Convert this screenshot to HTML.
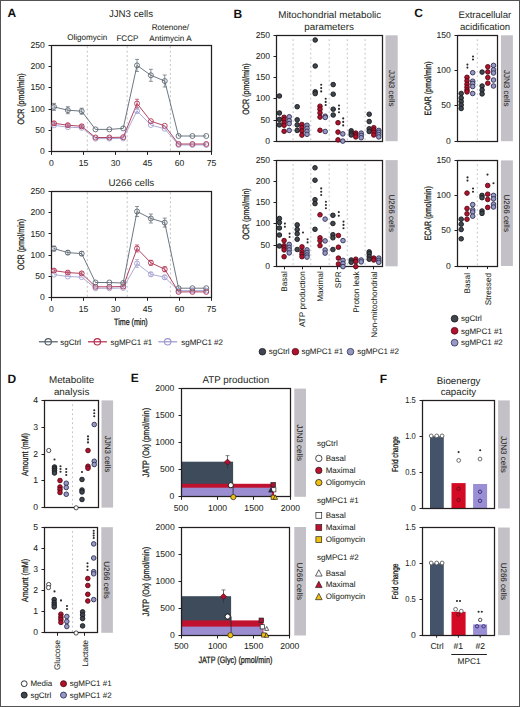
<!DOCTYPE html>
<html><head><meta charset="utf-8"><style>
html,body{margin:0;padding:0;background:#fff;}
body{width:520px;height:707px;overflow:hidden;}
svg{display:block;}
text{text-rendering:geometricPrecision;}
</style></head><body>
<svg width="520" height="707" viewBox="0 0 520 707" font-family='"Liberation Sans", sans-serif'>
<rect x="0.00" y="0.00" width="520.00" height="707.00" fill="#ffffff"/>
<text x="7.50" y="17.13" font-size="12" text-anchor="start" fill="#111" font-weight="bold">A</text>
<text x="233.60" y="17.73" font-size="12" text-anchor="start" fill="#111" font-weight="bold">B</text>
<text x="414.30" y="17.43" font-size="12" text-anchor="start" fill="#111" font-weight="bold">C</text>
<text x="7.50" y="382.93" font-size="12" text-anchor="start" fill="#111" font-weight="bold">D</text>
<text x="130.80" y="382.13" font-size="12" text-anchor="start" fill="#111" font-weight="bold">E</text>
<text x="379.70" y="383.33" font-size="12" text-anchor="start" fill="#111" font-weight="bold">F</text>
<text x="131.00" y="17.24" font-size="9.7" text-anchor="middle" fill="#231f20">JJN3 cells</text>
<text x="87.20" y="40.09" font-size="8.1" text-anchor="middle" fill="#231f20" stroke="#231f20" stroke-width="0.05">Oligomycin</text>
<text x="127.40" y="40.59" font-size="8.1" text-anchor="middle" fill="#231f20" stroke="#231f20" stroke-width="0.05">FCCP</text>
<text x="170.40" y="30.49" font-size="8.1" text-anchor="middle" fill="#231f20" stroke="#231f20" stroke-width="0.05">Rotenone/</text>
<text x="170.40" y="40.59" font-size="8.1" text-anchor="middle" fill="#231f20" stroke="#231f20" stroke-width="0.05">Antimycin A</text>
<text x="131.40" y="185.77" font-size="9.8" text-anchor="middle" fill="#231f20">U266 cells</text>
<line x1="87.30" y1="46.20" x2="87.30" y2="151.90" stroke="#bcbcbc" stroke-width="0.9" stroke-dasharray="2,2.45" />
<line x1="127.20" y1="46.20" x2="127.20" y2="151.90" stroke="#bcbcbc" stroke-width="0.9" stroke-dasharray="2,2.45" />
<line x1="170.40" y1="46.20" x2="170.40" y2="151.90" stroke="#bcbcbc" stroke-width="0.9" stroke-dasharray="2,2.45" />
<rect x="51.50" y="45.50" width="160.00" height="106.00" fill="none" stroke="#231f20" stroke-width="1.25"/>
<line x1="48.50" y1="151.50" x2="51.50" y2="151.50" stroke="#231f20" stroke-width="1" />
<text x="44.90" y="154.46" font-size="8.6" text-anchor="end" fill="#231f20" stroke="#231f20" stroke-width="0.05">0</text>
<line x1="48.50" y1="130.50" x2="51.50" y2="130.50" stroke="#231f20" stroke-width="1" />
<text x="44.90" y="133.12" font-size="8.6" text-anchor="end" fill="#231f20" stroke="#231f20" stroke-width="0.05">50</text>
<line x1="48.50" y1="109.50" x2="51.50" y2="109.50" stroke="#231f20" stroke-width="1" />
<text x="44.90" y="111.78" font-size="8.6" text-anchor="end" fill="#231f20" stroke="#231f20" stroke-width="0.05">100</text>
<line x1="48.50" y1="87.50" x2="51.50" y2="87.50" stroke="#231f20" stroke-width="1" />
<text x="44.90" y="90.44" font-size="8.6" text-anchor="end" fill="#231f20" stroke="#231f20" stroke-width="0.05">150</text>
<line x1="48.50" y1="66.50" x2="51.50" y2="66.50" stroke="#231f20" stroke-width="1" />
<text x="44.90" y="69.10" font-size="8.6" text-anchor="end" fill="#231f20" stroke="#231f20" stroke-width="0.05">200</text>
<line x1="48.50" y1="45.50" x2="51.50" y2="45.50" stroke="#231f20" stroke-width="1" />
<text x="44.90" y="47.76" font-size="8.6" text-anchor="end" fill="#231f20" stroke="#231f20" stroke-width="0.05">250</text>
<line x1="51.50" y1="151.90" x2="51.50" y2="154.90" stroke="#231f20" stroke-width="1" />
<text x="51.50" y="166.26" font-size="8.6" text-anchor="middle" fill="#231f20" stroke="#231f20" stroke-width="0.05">0</text>
<line x1="83.50" y1="151.90" x2="83.50" y2="154.90" stroke="#231f20" stroke-width="1" />
<text x="83.50" y="166.26" font-size="8.6" text-anchor="middle" fill="#231f20" stroke="#231f20" stroke-width="0.05">15</text>
<line x1="115.50" y1="151.90" x2="115.50" y2="154.90" stroke="#231f20" stroke-width="1" />
<text x="115.50" y="166.26" font-size="8.6" text-anchor="middle" fill="#231f20" stroke="#231f20" stroke-width="0.05">30</text>
<line x1="147.50" y1="151.90" x2="147.50" y2="154.90" stroke="#231f20" stroke-width="1" />
<text x="147.50" y="166.26" font-size="8.6" text-anchor="middle" fill="#231f20" stroke="#231f20" stroke-width="0.05">45</text>
<line x1="179.50" y1="151.90" x2="179.50" y2="154.90" stroke="#231f20" stroke-width="1" />
<text x="179.50" y="166.26" font-size="8.6" text-anchor="middle" fill="#231f20" stroke="#231f20" stroke-width="0.05">60</text>
<line x1="211.50" y1="151.90" x2="211.50" y2="154.90" stroke="#231f20" stroke-width="1" />
<text x="211.50" y="166.26" font-size="8.6" text-anchor="middle" fill="#231f20" stroke="#231f20" stroke-width="0.05">75</text>
<polyline points="54.00,125.30 67.84,127.20 81.68,127.80 95.52,138.60 109.36,138.60 123.20,138.40 137.04,111.00 150.88,125.00 164.72,128.80 178.56,145.00 192.40,145.00 206.24,145.00" fill="none" stroke="#a3a1d2" stroke-width="0.9"/>
<polyline points="54.00,123.30 67.84,125.20 81.68,126.30 95.52,137.50 109.36,137.50 123.20,137.20 137.04,103.50 150.88,121.20 164.72,125.80 178.56,144.00 192.40,144.00 206.24,144.00" fill="none" stroke="#a82f50" stroke-width="0.9"/>
<polyline points="54.00,106.90 67.84,110.20 81.68,111.20 95.52,129.40 109.36,129.40 123.20,128.40 137.04,65.40 150.88,75.30 164.72,81.00 178.56,136.00 192.40,136.00 206.24,136.00" fill="none" stroke="#5c6873" stroke-width="0.9"/>
<circle cx="54.00" cy="125.30" r="2.50" fill="none" stroke="#a3a1d2" stroke-width="0.9"/>
<circle cx="67.84" cy="127.20" r="2.50" fill="none" stroke="#a3a1d2" stroke-width="0.9"/>
<circle cx="81.68" cy="127.80" r="2.50" fill="none" stroke="#a3a1d2" stroke-width="0.9"/>
<circle cx="95.52" cy="138.60" r="2.50" fill="none" stroke="#a3a1d2" stroke-width="0.9"/>
<circle cx="109.36" cy="138.60" r="2.50" fill="none" stroke="#a3a1d2" stroke-width="0.9"/>
<circle cx="123.20" cy="138.40" r="2.50" fill="none" stroke="#a3a1d2" stroke-width="0.9"/>
<line x1="137.04" y1="109.00" x2="137.04" y2="113.00" stroke="#a3a1d2" stroke-width="0.7" />
<line x1="135.04" y1="109.00" x2="139.04" y2="109.00" stroke="#a3a1d2" stroke-width="0.7" />
<line x1="135.04" y1="113.00" x2="139.04" y2="113.00" stroke="#a3a1d2" stroke-width="0.7" />
<circle cx="137.04" cy="111.00" r="2.50" fill="none" stroke="#a3a1d2" stroke-width="0.9"/>
<circle cx="150.88" cy="125.00" r="2.50" fill="none" stroke="#a3a1d2" stroke-width="0.9"/>
<circle cx="164.72" cy="128.80" r="2.50" fill="none" stroke="#a3a1d2" stroke-width="0.9"/>
<circle cx="178.56" cy="145.00" r="2.50" fill="none" stroke="#a3a1d2" stroke-width="0.9"/>
<circle cx="192.40" cy="145.00" r="2.50" fill="none" stroke="#a3a1d2" stroke-width="0.9"/>
<circle cx="206.24" cy="145.00" r="2.50" fill="none" stroke="#a3a1d2" stroke-width="0.9"/>
<line x1="54.00" y1="121.80" x2="54.00" y2="124.80" stroke="#b23556" stroke-width="0.7" />
<line x1="52.00" y1="121.80" x2="56.00" y2="121.80" stroke="#b23556" stroke-width="0.7" />
<line x1="52.00" y1="124.80" x2="56.00" y2="124.80" stroke="#b23556" stroke-width="0.7" />
<circle cx="54.00" cy="123.30" r="2.50" fill="none" stroke="#b23556" stroke-width="0.9"/>
<line x1="67.84" y1="123.70" x2="67.84" y2="126.70" stroke="#b23556" stroke-width="0.7" />
<line x1="65.84" y1="123.70" x2="69.84" y2="123.70" stroke="#b23556" stroke-width="0.7" />
<line x1="65.84" y1="126.70" x2="69.84" y2="126.70" stroke="#b23556" stroke-width="0.7" />
<circle cx="67.84" cy="125.20" r="2.50" fill="none" stroke="#b23556" stroke-width="0.9"/>
<line x1="81.68" y1="124.80" x2="81.68" y2="127.80" stroke="#b23556" stroke-width="0.7" />
<line x1="79.68" y1="124.80" x2="83.68" y2="124.80" stroke="#b23556" stroke-width="0.7" />
<line x1="79.68" y1="127.80" x2="83.68" y2="127.80" stroke="#b23556" stroke-width="0.7" />
<circle cx="81.68" cy="126.30" r="2.50" fill="none" stroke="#b23556" stroke-width="0.9"/>
<circle cx="95.52" cy="137.50" r="2.50" fill="none" stroke="#b23556" stroke-width="0.9"/>
<circle cx="109.36" cy="137.50" r="2.50" fill="none" stroke="#b23556" stroke-width="0.9"/>
<circle cx="123.20" cy="137.20" r="2.50" fill="none" stroke="#b23556" stroke-width="0.9"/>
<line x1="137.04" y1="99.30" x2="137.04" y2="107.70" stroke="#b23556" stroke-width="0.7" />
<line x1="135.04" y1="99.30" x2="139.04" y2="99.30" stroke="#b23556" stroke-width="0.7" />
<line x1="135.04" y1="107.70" x2="139.04" y2="107.70" stroke="#b23556" stroke-width="0.7" />
<circle cx="137.04" cy="103.50" r="2.50" fill="none" stroke="#b23556" stroke-width="0.9"/>
<circle cx="150.88" cy="121.20" r="2.50" fill="none" stroke="#b23556" stroke-width="0.9"/>
<circle cx="164.72" cy="125.80" r="2.50" fill="none" stroke="#b23556" stroke-width="0.9"/>
<circle cx="178.56" cy="144.00" r="2.50" fill="none" stroke="#b23556" stroke-width="0.9"/>
<circle cx="192.40" cy="144.00" r="2.50" fill="none" stroke="#b23556" stroke-width="0.9"/>
<circle cx="206.24" cy="144.00" r="2.50" fill="none" stroke="#b23556" stroke-width="0.9"/>
<line x1="54.00" y1="103.40" x2="54.00" y2="110.40" stroke="#5c6873" stroke-width="0.7" />
<line x1="52.00" y1="103.40" x2="56.00" y2="103.40" stroke="#5c6873" stroke-width="0.7" />
<line x1="52.00" y1="110.40" x2="56.00" y2="110.40" stroke="#5c6873" stroke-width="0.7" />
<circle cx="54.00" cy="106.90" r="2.50" fill="none" stroke="#5c6873" stroke-width="0.9"/>
<line x1="67.84" y1="106.70" x2="67.84" y2="113.70" stroke="#5c6873" stroke-width="0.7" />
<line x1="65.84" y1="106.70" x2="69.84" y2="106.70" stroke="#5c6873" stroke-width="0.7" />
<line x1="65.84" y1="113.70" x2="69.84" y2="113.70" stroke="#5c6873" stroke-width="0.7" />
<circle cx="67.84" cy="110.20" r="2.50" fill="none" stroke="#5c6873" stroke-width="0.9"/>
<line x1="81.68" y1="108.20" x2="81.68" y2="114.20" stroke="#5c6873" stroke-width="0.7" />
<line x1="79.68" y1="108.20" x2="83.68" y2="108.20" stroke="#5c6873" stroke-width="0.7" />
<line x1="79.68" y1="114.20" x2="83.68" y2="114.20" stroke="#5c6873" stroke-width="0.7" />
<circle cx="81.68" cy="111.20" r="2.50" fill="none" stroke="#5c6873" stroke-width="0.9"/>
<circle cx="95.52" cy="129.40" r="2.50" fill="none" stroke="#5c6873" stroke-width="0.9"/>
<circle cx="109.36" cy="129.40" r="2.50" fill="none" stroke="#5c6873" stroke-width="0.9"/>
<circle cx="123.20" cy="128.40" r="2.50" fill="none" stroke="#5c6873" stroke-width="0.9"/>
<line x1="137.04" y1="59.40" x2="137.04" y2="71.40" stroke="#5c6873" stroke-width="0.7" />
<line x1="135.04" y1="59.40" x2="139.04" y2="59.40" stroke="#5c6873" stroke-width="0.7" />
<line x1="135.04" y1="71.40" x2="139.04" y2="71.40" stroke="#5c6873" stroke-width="0.7" />
<circle cx="137.04" cy="65.40" r="2.50" fill="none" stroke="#5c6873" stroke-width="0.9"/>
<line x1="150.88" y1="69.30" x2="150.88" y2="81.30" stroke="#5c6873" stroke-width="0.7" />
<line x1="148.88" y1="69.30" x2="152.88" y2="69.30" stroke="#5c6873" stroke-width="0.7" />
<line x1="148.88" y1="81.30" x2="152.88" y2="81.30" stroke="#5c6873" stroke-width="0.7" />
<circle cx="150.88" cy="75.30" r="2.50" fill="none" stroke="#5c6873" stroke-width="0.9"/>
<line x1="164.72" y1="75.00" x2="164.72" y2="87.00" stroke="#5c6873" stroke-width="0.7" />
<line x1="162.72" y1="75.00" x2="166.72" y2="75.00" stroke="#5c6873" stroke-width="0.7" />
<line x1="162.72" y1="87.00" x2="166.72" y2="87.00" stroke="#5c6873" stroke-width="0.7" />
<circle cx="164.72" cy="81.00" r="2.50" fill="none" stroke="#5c6873" stroke-width="0.9"/>
<circle cx="178.56" cy="136.00" r="2.50" fill="none" stroke="#5c6873" stroke-width="0.9"/>
<circle cx="192.40" cy="136.00" r="2.50" fill="none" stroke="#5c6873" stroke-width="0.9"/>
<circle cx="206.24" cy="136.00" r="2.50" fill="none" stroke="#5c6873" stroke-width="0.9"/>
<line x1="87.30" y1="192.40" x2="87.30" y2="297.80" stroke="#bcbcbc" stroke-width="0.9" stroke-dasharray="2,2.45" />
<line x1="127.20" y1="192.40" x2="127.20" y2="297.80" stroke="#bcbcbc" stroke-width="0.9" stroke-dasharray="2,2.45" />
<line x1="170.40" y1="192.40" x2="170.40" y2="297.80" stroke="#bcbcbc" stroke-width="0.9" stroke-dasharray="2,2.45" />
<rect x="51.50" y="191.50" width="160.00" height="106.00" fill="none" stroke="#231f20" stroke-width="1.25"/>
<line x1="48.50" y1="297.50" x2="51.50" y2="297.50" stroke="#231f20" stroke-width="1" />
<text x="44.90" y="300.36" font-size="8.6" text-anchor="end" fill="#231f20" stroke="#231f20" stroke-width="0.05">0</text>
<line x1="48.50" y1="276.50" x2="51.50" y2="276.50" stroke="#231f20" stroke-width="1" />
<text x="44.90" y="279.08" font-size="8.6" text-anchor="end" fill="#231f20" stroke="#231f20" stroke-width="0.05">50</text>
<line x1="48.50" y1="255.50" x2="51.50" y2="255.50" stroke="#231f20" stroke-width="1" />
<text x="44.90" y="257.80" font-size="8.6" text-anchor="end" fill="#231f20" stroke="#231f20" stroke-width="0.05">100</text>
<line x1="48.50" y1="233.50" x2="51.50" y2="233.50" stroke="#231f20" stroke-width="1" />
<text x="44.90" y="236.52" font-size="8.6" text-anchor="end" fill="#231f20" stroke="#231f20" stroke-width="0.05">150</text>
<line x1="48.50" y1="212.50" x2="51.50" y2="212.50" stroke="#231f20" stroke-width="1" />
<text x="44.90" y="215.24" font-size="8.6" text-anchor="end" fill="#231f20" stroke="#231f20" stroke-width="0.05">200</text>
<line x1="48.50" y1="191.50" x2="51.50" y2="191.50" stroke="#231f20" stroke-width="1" />
<text x="44.90" y="193.96" font-size="8.6" text-anchor="end" fill="#231f20" stroke="#231f20" stroke-width="0.05">250</text>
<line x1="51.50" y1="297.80" x2="51.50" y2="300.80" stroke="#231f20" stroke-width="1" />
<text x="51.50" y="312.16" font-size="8.6" text-anchor="middle" fill="#231f20" stroke="#231f20" stroke-width="0.05">0</text>
<line x1="83.50" y1="297.80" x2="83.50" y2="300.80" stroke="#231f20" stroke-width="1" />
<text x="83.50" y="312.16" font-size="8.6" text-anchor="middle" fill="#231f20" stroke="#231f20" stroke-width="0.05">15</text>
<line x1="115.50" y1="297.80" x2="115.50" y2="300.80" stroke="#231f20" stroke-width="1" />
<text x="115.50" y="312.16" font-size="8.6" text-anchor="middle" fill="#231f20" stroke="#231f20" stroke-width="0.05">30</text>
<line x1="147.50" y1="297.80" x2="147.50" y2="300.80" stroke="#231f20" stroke-width="1" />
<text x="147.50" y="312.16" font-size="8.6" text-anchor="middle" fill="#231f20" stroke="#231f20" stroke-width="0.05">45</text>
<line x1="179.50" y1="297.80" x2="179.50" y2="300.80" stroke="#231f20" stroke-width="1" />
<text x="179.50" y="312.16" font-size="8.6" text-anchor="middle" fill="#231f20" stroke="#231f20" stroke-width="0.05">60</text>
<line x1="211.50" y1="297.80" x2="211.50" y2="300.80" stroke="#231f20" stroke-width="1" />
<text x="211.50" y="312.16" font-size="8.6" text-anchor="middle" fill="#231f20" stroke="#231f20" stroke-width="0.05">75</text>
<polyline points="54.00,274.60 67.84,276.50 81.68,277.10 95.52,288.30 109.36,288.30 123.20,288.00 137.04,263.50 150.88,274.30 164.72,277.30 178.56,290.60 192.40,290.60 206.24,290.60" fill="none" stroke="#a3a1d2" stroke-width="0.9"/>
<polyline points="54.00,270.60 67.84,272.60 81.68,273.40 95.52,286.80 109.36,286.80 123.20,286.50 137.04,248.50 150.88,262.80 164.72,269.20 178.56,291.90 192.40,291.90 206.24,291.90" fill="none" stroke="#a82f50" stroke-width="0.9"/>
<polyline points="54.00,248.60 67.84,252.60 81.68,253.60 95.52,282.50 109.36,282.50 123.20,283.00 137.04,211.50 150.88,218.50 164.72,222.60 178.56,288.20 192.40,288.20 206.24,288.20" fill="none" stroke="#5c6873" stroke-width="0.9"/>
<circle cx="54.00" cy="274.60" r="2.50" fill="none" stroke="#a3a1d2" stroke-width="0.9"/>
<circle cx="67.84" cy="276.50" r="2.50" fill="none" stroke="#a3a1d2" stroke-width="0.9"/>
<circle cx="81.68" cy="277.10" r="2.50" fill="none" stroke="#a3a1d2" stroke-width="0.9"/>
<circle cx="95.52" cy="288.30" r="2.50" fill="none" stroke="#a3a1d2" stroke-width="0.9"/>
<circle cx="109.36" cy="288.30" r="2.50" fill="none" stroke="#a3a1d2" stroke-width="0.9"/>
<circle cx="123.20" cy="288.00" r="2.50" fill="none" stroke="#a3a1d2" stroke-width="0.9"/>
<line x1="137.04" y1="259.50" x2="137.04" y2="267.50" stroke="#a3a1d2" stroke-width="0.7" />
<line x1="135.04" y1="259.50" x2="139.04" y2="259.50" stroke="#a3a1d2" stroke-width="0.7" />
<line x1="135.04" y1="267.50" x2="139.04" y2="267.50" stroke="#a3a1d2" stroke-width="0.7" />
<circle cx="137.04" cy="263.50" r="2.50" fill="none" stroke="#a3a1d2" stroke-width="0.9"/>
<line x1="150.88" y1="272.30" x2="150.88" y2="276.30" stroke="#a3a1d2" stroke-width="0.7" />
<line x1="148.88" y1="272.30" x2="152.88" y2="272.30" stroke="#a3a1d2" stroke-width="0.7" />
<line x1="148.88" y1="276.30" x2="152.88" y2="276.30" stroke="#a3a1d2" stroke-width="0.7" />
<circle cx="150.88" cy="274.30" r="2.50" fill="none" stroke="#a3a1d2" stroke-width="0.9"/>
<line x1="164.72" y1="275.30" x2="164.72" y2="279.30" stroke="#a3a1d2" stroke-width="0.7" />
<line x1="162.72" y1="275.30" x2="166.72" y2="275.30" stroke="#a3a1d2" stroke-width="0.7" />
<line x1="162.72" y1="279.30" x2="166.72" y2="279.30" stroke="#a3a1d2" stroke-width="0.7" />
<circle cx="164.72" cy="277.30" r="2.50" fill="none" stroke="#a3a1d2" stroke-width="0.9"/>
<circle cx="178.56" cy="290.60" r="2.50" fill="none" stroke="#a3a1d2" stroke-width="0.9"/>
<circle cx="192.40" cy="290.60" r="2.50" fill="none" stroke="#a3a1d2" stroke-width="0.9"/>
<circle cx="206.24" cy="290.60" r="2.50" fill="none" stroke="#a3a1d2" stroke-width="0.9"/>
<line x1="54.00" y1="269.10" x2="54.00" y2="272.10" stroke="#b23556" stroke-width="0.7" />
<line x1="52.00" y1="269.10" x2="56.00" y2="269.10" stroke="#b23556" stroke-width="0.7" />
<line x1="52.00" y1="272.10" x2="56.00" y2="272.10" stroke="#b23556" stroke-width="0.7" />
<circle cx="54.00" cy="270.60" r="2.50" fill="none" stroke="#b23556" stroke-width="0.9"/>
<line x1="67.84" y1="271.10" x2="67.84" y2="274.10" stroke="#b23556" stroke-width="0.7" />
<line x1="65.84" y1="271.10" x2="69.84" y2="271.10" stroke="#b23556" stroke-width="0.7" />
<line x1="65.84" y1="274.10" x2="69.84" y2="274.10" stroke="#b23556" stroke-width="0.7" />
<circle cx="67.84" cy="272.60" r="2.50" fill="none" stroke="#b23556" stroke-width="0.9"/>
<line x1="81.68" y1="271.90" x2="81.68" y2="274.90" stroke="#b23556" stroke-width="0.7" />
<line x1="79.68" y1="271.90" x2="83.68" y2="271.90" stroke="#b23556" stroke-width="0.7" />
<line x1="79.68" y1="274.90" x2="83.68" y2="274.90" stroke="#b23556" stroke-width="0.7" />
<circle cx="81.68" cy="273.40" r="2.50" fill="none" stroke="#b23556" stroke-width="0.9"/>
<circle cx="95.52" cy="286.80" r="2.50" fill="none" stroke="#b23556" stroke-width="0.9"/>
<circle cx="109.36" cy="286.80" r="2.50" fill="none" stroke="#b23556" stroke-width="0.9"/>
<circle cx="123.20" cy="286.50" r="2.50" fill="none" stroke="#b23556" stroke-width="0.9"/>
<line x1="137.04" y1="245.00" x2="137.04" y2="252.00" stroke="#b23556" stroke-width="0.7" />
<line x1="135.04" y1="245.00" x2="139.04" y2="245.00" stroke="#b23556" stroke-width="0.7" />
<line x1="135.04" y1="252.00" x2="139.04" y2="252.00" stroke="#b23556" stroke-width="0.7" />
<circle cx="137.04" cy="248.50" r="2.50" fill="none" stroke="#b23556" stroke-width="0.9"/>
<line x1="150.88" y1="260.30" x2="150.88" y2="265.30" stroke="#b23556" stroke-width="0.7" />
<line x1="148.88" y1="260.30" x2="152.88" y2="260.30" stroke="#b23556" stroke-width="0.7" />
<line x1="148.88" y1="265.30" x2="152.88" y2="265.30" stroke="#b23556" stroke-width="0.7" />
<circle cx="150.88" cy="262.80" r="2.50" fill="none" stroke="#b23556" stroke-width="0.9"/>
<line x1="164.72" y1="266.70" x2="164.72" y2="271.70" stroke="#b23556" stroke-width="0.7" />
<line x1="162.72" y1="266.70" x2="166.72" y2="266.70" stroke="#b23556" stroke-width="0.7" />
<line x1="162.72" y1="271.70" x2="166.72" y2="271.70" stroke="#b23556" stroke-width="0.7" />
<circle cx="164.72" cy="269.20" r="2.50" fill="none" stroke="#b23556" stroke-width="0.9"/>
<circle cx="178.56" cy="291.90" r="2.50" fill="none" stroke="#b23556" stroke-width="0.9"/>
<circle cx="192.40" cy="291.90" r="2.50" fill="none" stroke="#b23556" stroke-width="0.9"/>
<circle cx="206.24" cy="291.90" r="2.50" fill="none" stroke="#b23556" stroke-width="0.9"/>
<line x1="54.00" y1="246.10" x2="54.00" y2="251.10" stroke="#5c6873" stroke-width="0.7" />
<line x1="52.00" y1="246.10" x2="56.00" y2="246.10" stroke="#5c6873" stroke-width="0.7" />
<line x1="52.00" y1="251.10" x2="56.00" y2="251.10" stroke="#5c6873" stroke-width="0.7" />
<circle cx="54.00" cy="248.60" r="2.50" fill="none" stroke="#5c6873" stroke-width="0.9"/>
<line x1="67.84" y1="250.60" x2="67.84" y2="254.60" stroke="#5c6873" stroke-width="0.7" />
<line x1="65.84" y1="250.60" x2="69.84" y2="250.60" stroke="#5c6873" stroke-width="0.7" />
<line x1="65.84" y1="254.60" x2="69.84" y2="254.60" stroke="#5c6873" stroke-width="0.7" />
<circle cx="67.84" cy="252.60" r="2.50" fill="none" stroke="#5c6873" stroke-width="0.9"/>
<line x1="81.68" y1="251.60" x2="81.68" y2="255.60" stroke="#5c6873" stroke-width="0.7" />
<line x1="79.68" y1="251.60" x2="83.68" y2="251.60" stroke="#5c6873" stroke-width="0.7" />
<line x1="79.68" y1="255.60" x2="83.68" y2="255.60" stroke="#5c6873" stroke-width="0.7" />
<circle cx="81.68" cy="253.60" r="2.50" fill="none" stroke="#5c6873" stroke-width="0.9"/>
<circle cx="95.52" cy="282.50" r="2.50" fill="none" stroke="#5c6873" stroke-width="0.9"/>
<circle cx="109.36" cy="282.50" r="2.50" fill="none" stroke="#5c6873" stroke-width="0.9"/>
<circle cx="123.20" cy="283.00" r="2.50" fill="none" stroke="#5c6873" stroke-width="0.9"/>
<line x1="137.04" y1="206.50" x2="137.04" y2="216.50" stroke="#5c6873" stroke-width="0.7" />
<line x1="135.04" y1="206.50" x2="139.04" y2="206.50" stroke="#5c6873" stroke-width="0.7" />
<line x1="135.04" y1="216.50" x2="139.04" y2="216.50" stroke="#5c6873" stroke-width="0.7" />
<circle cx="137.04" cy="211.50" r="2.50" fill="none" stroke="#5c6873" stroke-width="0.9"/>
<line x1="150.88" y1="214.00" x2="150.88" y2="223.00" stroke="#5c6873" stroke-width="0.7" />
<line x1="148.88" y1="214.00" x2="152.88" y2="214.00" stroke="#5c6873" stroke-width="0.7" />
<line x1="148.88" y1="223.00" x2="152.88" y2="223.00" stroke="#5c6873" stroke-width="0.7" />
<circle cx="150.88" cy="218.50" r="2.50" fill="none" stroke="#5c6873" stroke-width="0.9"/>
<line x1="164.72" y1="218.10" x2="164.72" y2="227.10" stroke="#5c6873" stroke-width="0.7" />
<line x1="162.72" y1="218.10" x2="166.72" y2="218.10" stroke="#5c6873" stroke-width="0.7" />
<line x1="162.72" y1="227.10" x2="166.72" y2="227.10" stroke="#5c6873" stroke-width="0.7" />
<circle cx="164.72" cy="222.60" r="2.50" fill="none" stroke="#5c6873" stroke-width="0.9"/>
<circle cx="178.56" cy="288.20" r="2.50" fill="none" stroke="#5c6873" stroke-width="0.9"/>
<circle cx="192.40" cy="288.20" r="2.50" fill="none" stroke="#5c6873" stroke-width="0.9"/>
<circle cx="206.24" cy="288.20" r="2.50" fill="none" stroke="#5c6873" stroke-width="0.9"/>
<text transform="translate(20.60,98.90) rotate(-90)" x="0" y="3.16" font-size="9.2" text-anchor="middle" fill="#231f20" stroke="#231f20" stroke-width="0.3" textLength="51" lengthAdjust="spacingAndGlyphs">OCR (pmol/min)</text>
<text transform="translate(20.60,244.50) rotate(-90)" x="0" y="3.16" font-size="9.2" text-anchor="middle" fill="#231f20" stroke="#231f20" stroke-width="0.3" textLength="51" lengthAdjust="spacingAndGlyphs">OCR (pmol/min)</text>
<text x="130.90" y="325.46" font-size="9.2" text-anchor="middle" fill="#231f20" stroke="#231f20" stroke-width="0.3" textLength="33.6" lengthAdjust="spacingAndGlyphs">Time (min)</text>
<line x1="38.90" y1="341.80" x2="57.80" y2="341.80" stroke="#4f5b66" stroke-width="1.2" />
<circle cx="48.20" cy="341.80" r="3.20" fill="none" stroke="#4f5b66" stroke-width="1.1"/>
<text x="60.20" y="344.55" font-size="8" text-anchor="start" fill="#231f20" stroke="#231f20" stroke-width="0.05">sgCtrl</text>
<line x1="88.00" y1="341.80" x2="106.90" y2="341.80" stroke="#b3284a" stroke-width="1.2" />
<circle cx="97.30" cy="341.80" r="3.20" fill="none" stroke="#b3284a" stroke-width="1.1"/>
<text x="110.50" y="344.55" font-size="8" text-anchor="start" fill="#231f20" stroke="#231f20" stroke-width="0.05">sgMPC1 #1</text>
<line x1="158.30" y1="341.80" x2="177.20" y2="341.80" stroke="#9896cc" stroke-width="1.2" />
<circle cx="167.70" cy="341.80" r="3.20" fill="none" stroke="#9896cc" stroke-width="1.1"/>
<text x="181.20" y="344.55" font-size="8" text-anchor="start" fill="#231f20" stroke="#231f20" stroke-width="0.05">sgMPC1 #2</text>
<line x1="293.10" y1="39.30" x2="293.10" y2="141.20" stroke="#babac0" stroke-width="0.9" stroke-dasharray="1.7,2.8" />
<line x1="310.80" y1="39.30" x2="310.80" y2="141.20" stroke="#babac0" stroke-width="0.9" stroke-dasharray="1.7,2.8" />
<line x1="329.20" y1="39.30" x2="329.20" y2="141.20" stroke="#babac0" stroke-width="0.9" stroke-dasharray="1.7,2.8" />
<line x1="347.30" y1="39.30" x2="347.30" y2="141.20" stroke="#babac0" stroke-width="0.9" stroke-dasharray="1.7,2.8" />
<line x1="365.10" y1="39.30" x2="365.10" y2="141.20" stroke="#babac0" stroke-width="0.9" stroke-dasharray="1.7,2.8" />
<rect x="276.50" y="35.50" width="106.00" height="106.00" fill="none" stroke="#231f20" stroke-width="1.25"/>
<line x1="273.50" y1="141.50" x2="276.50" y2="141.50" stroke="#231f20" stroke-width="1" />
<text x="270.00" y="143.76" font-size="8.6" text-anchor="end" fill="#231f20" stroke="#231f20" stroke-width="0.05">0</text>
<line x1="273.50" y1="120.50" x2="276.50" y2="120.50" stroke="#231f20" stroke-width="1" />
<text x="270.00" y="122.58" font-size="8.6" text-anchor="end" fill="#231f20" stroke="#231f20" stroke-width="0.05">50</text>
<line x1="273.50" y1="98.50" x2="276.50" y2="98.50" stroke="#231f20" stroke-width="1" />
<text x="270.00" y="101.40" font-size="8.6" text-anchor="end" fill="#231f20" stroke="#231f20" stroke-width="0.05">100</text>
<line x1="273.50" y1="77.50" x2="276.50" y2="77.50" stroke="#231f20" stroke-width="1" />
<text x="270.00" y="80.22" font-size="8.6" text-anchor="end" fill="#231f20" stroke="#231f20" stroke-width="0.05">150</text>
<line x1="273.50" y1="56.50" x2="276.50" y2="56.50" stroke="#231f20" stroke-width="1" />
<text x="270.00" y="59.04" font-size="8.6" text-anchor="end" fill="#231f20" stroke="#231f20" stroke-width="0.05">200</text>
<line x1="273.50" y1="35.50" x2="276.50" y2="35.50" stroke="#231f20" stroke-width="1" />
<text x="270.00" y="37.86" font-size="8.6" text-anchor="end" fill="#231f20" stroke="#231f20" stroke-width="0.05">250</text>
<circle cx="279.40" cy="96.00" r="2.30" fill="#40464e" stroke="#16191c" stroke-width="0.9"/>
<circle cx="279.40" cy="113.00" r="2.30" fill="#40464e" stroke="#16191c" stroke-width="0.9"/>
<circle cx="279.40" cy="119.40" r="2.30" fill="#40464e" stroke="#16191c" stroke-width="0.9"/>
<circle cx="279.40" cy="124.90" r="2.30" fill="#40464e" stroke="#16191c" stroke-width="0.9"/>
<circle cx="284.10" cy="117.30" r="2.30" fill="#b0122d" stroke="#520915" stroke-width="0.9"/>
<circle cx="284.10" cy="119.80" r="2.30" fill="#b0122d" stroke="#520915" stroke-width="0.9"/>
<circle cx="284.10" cy="122.40" r="2.30" fill="#b0122d" stroke="#520915" stroke-width="0.9"/>
<circle cx="284.10" cy="125.30" r="2.30" fill="#b0122d" stroke="#520915" stroke-width="0.9"/>
<circle cx="284.10" cy="131.30" r="2.30" fill="#b0122d" stroke="#520915" stroke-width="0.9"/>
<circle cx="289.20" cy="116.80" r="2.30" fill="#9799c2" stroke="#2e2f55" stroke-width="0.9"/>
<circle cx="289.20" cy="120.70" r="2.30" fill="#9799c2" stroke="#2e2f55" stroke-width="0.9"/>
<circle cx="289.20" cy="123.60" r="2.30" fill="#9799c2" stroke="#2e2f55" stroke-width="0.9"/>
<circle cx="289.20" cy="130.40" r="2.30" fill="#9799c2" stroke="#2e2f55" stroke-width="0.9"/>
<circle cx="297.20" cy="106.70" r="2.30" fill="#40464e" stroke="#16191c" stroke-width="0.9"/>
<circle cx="297.20" cy="119.80" r="2.30" fill="#40464e" stroke="#16191c" stroke-width="0.9"/>
<circle cx="297.20" cy="124.90" r="2.30" fill="#40464e" stroke="#16191c" stroke-width="0.9"/>
<circle cx="297.20" cy="130.40" r="2.30" fill="#40464e" stroke="#16191c" stroke-width="0.9"/>
<circle cx="301.90" cy="124.50" r="2.30" fill="#b0122d" stroke="#520915" stroke-width="0.9"/>
<circle cx="301.90" cy="127.50" r="2.30" fill="#b0122d" stroke="#520915" stroke-width="0.9"/>
<circle cx="301.90" cy="130.90" r="2.30" fill="#b0122d" stroke="#520915" stroke-width="0.9"/>
<circle cx="301.90" cy="135.10" r="2.30" fill="#b0122d" stroke="#520915" stroke-width="0.9"/>
<circle cx="307.00" cy="125.30" r="2.30" fill="#9799c2" stroke="#2e2f55" stroke-width="0.9"/>
<circle cx="307.00" cy="128.30" r="2.30" fill="#9799c2" stroke="#2e2f55" stroke-width="0.9"/>
<circle cx="307.00" cy="131.30" r="2.30" fill="#9799c2" stroke="#2e2f55" stroke-width="0.9"/>
<circle cx="307.00" cy="134.30" r="2.30" fill="#9799c2" stroke="#2e2f55" stroke-width="0.9"/>
<circle cx="315.20" cy="40.00" r="2.30" fill="#40464e" stroke="#16191c" stroke-width="0.9"/>
<circle cx="315.20" cy="66.00" r="2.30" fill="#40464e" stroke="#16191c" stroke-width="0.9"/>
<circle cx="315.20" cy="91.80" r="2.30" fill="#40464e" stroke="#16191c" stroke-width="0.9"/>
<circle cx="315.20" cy="93.60" r="2.30" fill="#40464e" stroke="#16191c" stroke-width="0.9"/>
<circle cx="320.00" cy="106.20" r="2.30" fill="#b0122d" stroke="#520915" stroke-width="0.9"/>
<circle cx="320.00" cy="109.20" r="2.30" fill="#b0122d" stroke="#520915" stroke-width="0.9"/>
<circle cx="320.00" cy="112.90" r="2.30" fill="#b0122d" stroke="#520915" stroke-width="0.9"/>
<circle cx="320.00" cy="117.10" r="2.30" fill="#b0122d" stroke="#520915" stroke-width="0.9"/>
<circle cx="320.00" cy="130.30" r="2.30" fill="#b0122d" stroke="#520915" stroke-width="0.9"/>
<circle cx="325.20" cy="116.20" r="2.30" fill="#9799c2" stroke="#2e2f55" stroke-width="0.9"/>
<circle cx="325.20" cy="117.40" r="2.30" fill="#9799c2" stroke="#2e2f55" stroke-width="0.9"/>
<circle cx="325.20" cy="131.50" r="2.30" fill="#9799c2" stroke="#2e2f55" stroke-width="0.9"/>
<circle cx="333.20" cy="84.60" r="2.30" fill="#40464e" stroke="#16191c" stroke-width="0.9"/>
<circle cx="333.20" cy="94.20" r="2.30" fill="#40464e" stroke="#16191c" stroke-width="0.9"/>
<circle cx="333.20" cy="109.20" r="2.30" fill="#40464e" stroke="#16191c" stroke-width="0.9"/>
<circle cx="333.20" cy="115.00" r="2.30" fill="#40464e" stroke="#16191c" stroke-width="0.9"/>
<circle cx="338.00" cy="122.70" r="2.30" fill="#b0122d" stroke="#520915" stroke-width="0.9"/>
<circle cx="338.00" cy="132.10" r="2.30" fill="#b0122d" stroke="#520915" stroke-width="0.9"/>
<circle cx="338.00" cy="139.90" r="2.30" fill="#b0122d" stroke="#520915" stroke-width="0.9"/>
<circle cx="342.80" cy="133.90" r="2.30" fill="#9799c2" stroke="#2e2f55" stroke-width="0.9"/>
<circle cx="342.80" cy="141.10" r="2.30" fill="#9799c2" stroke="#2e2f55" stroke-width="0.9"/>
<circle cx="351.20" cy="130.80" r="2.30" fill="#40464e" stroke="#16191c" stroke-width="0.9"/>
<circle cx="351.20" cy="133.10" r="2.30" fill="#40464e" stroke="#16191c" stroke-width="0.9"/>
<circle cx="351.20" cy="135.00" r="2.30" fill="#40464e" stroke="#16191c" stroke-width="0.9"/>
<circle cx="355.80" cy="133.10" r="2.30" fill="#b0122d" stroke="#520915" stroke-width="0.9"/>
<circle cx="355.80" cy="135.00" r="2.30" fill="#b0122d" stroke="#520915" stroke-width="0.9"/>
<circle cx="355.80" cy="136.90" r="2.30" fill="#b0122d" stroke="#520915" stroke-width="0.9"/>
<circle cx="361.20" cy="133.10" r="2.30" fill="#9799c2" stroke="#2e2f55" stroke-width="0.9"/>
<circle cx="361.20" cy="135.40" r="2.30" fill="#9799c2" stroke="#2e2f55" stroke-width="0.9"/>
<circle cx="361.20" cy="137.70" r="2.30" fill="#9799c2" stroke="#2e2f55" stroke-width="0.9"/>
<circle cx="369.20" cy="114.20" r="2.30" fill="#40464e" stroke="#16191c" stroke-width="0.9"/>
<circle cx="369.20" cy="121.50" r="2.30" fill="#40464e" stroke="#16191c" stroke-width="0.9"/>
<circle cx="369.20" cy="128.80" r="2.30" fill="#40464e" stroke="#16191c" stroke-width="0.9"/>
<circle cx="369.20" cy="131.50" r="2.30" fill="#40464e" stroke="#16191c" stroke-width="0.9"/>
<circle cx="373.80" cy="127.70" r="2.30" fill="#b0122d" stroke="#520915" stroke-width="0.9"/>
<circle cx="373.80" cy="130.00" r="2.30" fill="#b0122d" stroke="#520915" stroke-width="0.9"/>
<circle cx="373.80" cy="132.30" r="2.30" fill="#b0122d" stroke="#520915" stroke-width="0.9"/>
<circle cx="373.80" cy="135.00" r="2.30" fill="#b0122d" stroke="#520915" stroke-width="0.9"/>
<circle cx="378.80" cy="130.40" r="2.30" fill="#9799c2" stroke="#2e2f55" stroke-width="0.9"/>
<circle cx="378.80" cy="132.30" r="2.30" fill="#9799c2" stroke="#2e2f55" stroke-width="0.9"/>
<circle cx="378.80" cy="134.60" r="2.30" fill="#9799c2" stroke="#2e2f55" stroke-width="0.9"/>
<circle cx="378.80" cy="136.90" r="2.30" fill="#9799c2" stroke="#2e2f55" stroke-width="0.9"/>
<circle cx="321.20" cy="84.80" r="1.05" fill="#2b2b2b"/>
<circle cx="321.20" cy="88.10" r="1.05" fill="#2b2b2b"/>
<circle cx="321.20" cy="91.40" r="1.05" fill="#2b2b2b"/>
<circle cx="325.70" cy="98.80" r="1.05" fill="#2b2b2b"/>
<circle cx="325.70" cy="101.90" r="1.05" fill="#2b2b2b"/>
<circle cx="325.70" cy="105.00" r="1.05" fill="#2b2b2b"/>
<circle cx="339.00" cy="105.50" r="1.05" fill="#2b2b2b"/>
<circle cx="339.00" cy="108.90" r="1.05" fill="#2b2b2b"/>
<circle cx="339.00" cy="112.30" r="1.05" fill="#2b2b2b"/>
<circle cx="343.20" cy="118.40" r="1.05" fill="#2b2b2b"/>
<circle cx="343.20" cy="121.90" r="1.05" fill="#2b2b2b"/>
<circle cx="343.20" cy="125.40" r="1.05" fill="#2b2b2b"/>
<line x1="293.10" y1="164.10" x2="293.10" y2="266.30" stroke="#babac0" stroke-width="0.9" stroke-dasharray="1.7,2.8" />
<line x1="310.80" y1="164.10" x2="310.80" y2="266.30" stroke="#babac0" stroke-width="0.9" stroke-dasharray="1.7,2.8" />
<line x1="329.20" y1="164.10" x2="329.20" y2="266.30" stroke="#babac0" stroke-width="0.9" stroke-dasharray="1.7,2.8" />
<line x1="347.30" y1="164.10" x2="347.30" y2="266.30" stroke="#babac0" stroke-width="0.9" stroke-dasharray="1.7,2.8" />
<line x1="365.10" y1="164.10" x2="365.10" y2="266.30" stroke="#babac0" stroke-width="0.9" stroke-dasharray="1.7,2.8" />
<rect x="276.50" y="160.50" width="106.00" height="106.00" fill="none" stroke="#231f20" stroke-width="1.25"/>
<line x1="273.50" y1="266.50" x2="276.50" y2="266.50" stroke="#231f20" stroke-width="1" />
<text x="270.00" y="268.86" font-size="8.6" text-anchor="end" fill="#231f20" stroke="#231f20" stroke-width="0.05">0</text>
<line x1="273.50" y1="245.50" x2="276.50" y2="245.50" stroke="#231f20" stroke-width="1" />
<text x="270.00" y="247.62" font-size="8.6" text-anchor="end" fill="#231f20" stroke="#231f20" stroke-width="0.05">50</text>
<line x1="273.50" y1="223.50" x2="276.50" y2="223.50" stroke="#231f20" stroke-width="1" />
<text x="270.00" y="226.38" font-size="8.6" text-anchor="end" fill="#231f20" stroke="#231f20" stroke-width="0.05">100</text>
<line x1="273.50" y1="202.50" x2="276.50" y2="202.50" stroke="#231f20" stroke-width="1" />
<text x="270.00" y="205.14" font-size="8.6" text-anchor="end" fill="#231f20" stroke="#231f20" stroke-width="0.05">150</text>
<line x1="273.50" y1="181.50" x2="276.50" y2="181.50" stroke="#231f20" stroke-width="1" />
<text x="270.00" y="183.90" font-size="8.6" text-anchor="end" fill="#231f20" stroke="#231f20" stroke-width="0.05">200</text>
<line x1="273.50" y1="160.50" x2="276.50" y2="160.50" stroke="#231f20" stroke-width="1" />
<text x="270.00" y="162.66" font-size="8.6" text-anchor="end" fill="#231f20" stroke="#231f20" stroke-width="0.05">250</text>
<line x1="284.50" y1="266.30" x2="284.50" y2="269.30" stroke="#231f20" stroke-width="1" />
<line x1="302.50" y1="266.30" x2="302.50" y2="269.30" stroke="#231f20" stroke-width="1" />
<line x1="320.50" y1="266.30" x2="320.50" y2="269.30" stroke="#231f20" stroke-width="1" />
<line x1="337.50" y1="266.30" x2="337.50" y2="269.30" stroke="#231f20" stroke-width="1" />
<line x1="355.50" y1="266.30" x2="355.50" y2="269.30" stroke="#231f20" stroke-width="1" />
<line x1="373.50" y1="266.30" x2="373.50" y2="269.30" stroke="#231f20" stroke-width="1" />
<circle cx="279.40" cy="218.50" r="2.30" fill="#40464e" stroke="#16191c" stroke-width="0.9"/>
<circle cx="279.40" cy="222.50" r="2.30" fill="#40464e" stroke="#16191c" stroke-width="0.9"/>
<circle cx="279.40" cy="228.00" r="2.30" fill="#40464e" stroke="#16191c" stroke-width="0.9"/>
<circle cx="279.40" cy="235.00" r="2.30" fill="#40464e" stroke="#16191c" stroke-width="0.9"/>
<circle cx="279.40" cy="246.00" r="2.30" fill="#40464e" stroke="#16191c" stroke-width="0.9"/>
<circle cx="284.10" cy="240.60" r="2.30" fill="#b0122d" stroke="#520915" stroke-width="0.9"/>
<circle cx="284.10" cy="245.70" r="2.30" fill="#b0122d" stroke="#520915" stroke-width="0.9"/>
<circle cx="284.10" cy="247.80" r="2.30" fill="#b0122d" stroke="#520915" stroke-width="0.9"/>
<circle cx="284.10" cy="249.90" r="2.30" fill="#b0122d" stroke="#520915" stroke-width="0.9"/>
<circle cx="284.10" cy="256.70" r="2.30" fill="#b0122d" stroke="#520915" stroke-width="0.9"/>
<circle cx="289.20" cy="244.40" r="2.30" fill="#9799c2" stroke="#2e2f55" stroke-width="0.9"/>
<circle cx="289.20" cy="247.40" r="2.30" fill="#9799c2" stroke="#2e2f55" stroke-width="0.9"/>
<circle cx="289.20" cy="249.90" r="2.30" fill="#9799c2" stroke="#2e2f55" stroke-width="0.9"/>
<circle cx="289.20" cy="252.90" r="2.30" fill="#9799c2" stroke="#2e2f55" stroke-width="0.9"/>
<circle cx="297.20" cy="224.90" r="2.30" fill="#40464e" stroke="#16191c" stroke-width="0.9"/>
<circle cx="297.20" cy="229.50" r="2.30" fill="#40464e" stroke="#16191c" stroke-width="0.9"/>
<circle cx="297.20" cy="233.80" r="2.30" fill="#40464e" stroke="#16191c" stroke-width="0.9"/>
<circle cx="297.20" cy="239.30" r="2.30" fill="#40464e" stroke="#16191c" stroke-width="0.9"/>
<circle cx="297.20" cy="249.50" r="2.30" fill="#40464e" stroke="#16191c" stroke-width="0.9"/>
<circle cx="302.00" cy="246.90" r="2.30" fill="#b0122d" stroke="#520915" stroke-width="0.9"/>
<circle cx="302.00" cy="251.60" r="2.30" fill="#b0122d" stroke="#520915" stroke-width="0.9"/>
<circle cx="302.00" cy="254.20" r="2.30" fill="#b0122d" stroke="#520915" stroke-width="0.9"/>
<circle cx="302.00" cy="256.70" r="2.30" fill="#b0122d" stroke="#520915" stroke-width="0.9"/>
<circle cx="307.00" cy="249.90" r="2.30" fill="#9799c2" stroke="#2e2f55" stroke-width="0.9"/>
<circle cx="307.00" cy="252.50" r="2.30" fill="#9799c2" stroke="#2e2f55" stroke-width="0.9"/>
<circle cx="307.00" cy="255.00" r="2.30" fill="#9799c2" stroke="#2e2f55" stroke-width="0.9"/>
<circle cx="307.00" cy="257.10" r="2.30" fill="#9799c2" stroke="#2e2f55" stroke-width="0.9"/>
<circle cx="315.00" cy="167.80" r="2.30" fill="#40464e" stroke="#16191c" stroke-width="0.9"/>
<circle cx="315.00" cy="180.20" r="2.30" fill="#40464e" stroke="#16191c" stroke-width="0.9"/>
<circle cx="315.00" cy="199.70" r="2.30" fill="#40464e" stroke="#16191c" stroke-width="0.9"/>
<circle cx="315.00" cy="203.60" r="2.30" fill="#40464e" stroke="#16191c" stroke-width="0.9"/>
<circle cx="315.00" cy="229.30" r="2.30" fill="#40464e" stroke="#16191c" stroke-width="0.9"/>
<circle cx="320.00" cy="214.80" r="2.30" fill="#b0122d" stroke="#520915" stroke-width="0.9"/>
<circle cx="320.00" cy="237.80" r="2.30" fill="#b0122d" stroke="#520915" stroke-width="0.9"/>
<circle cx="320.00" cy="240.60" r="2.30" fill="#b0122d" stroke="#520915" stroke-width="0.9"/>
<circle cx="320.00" cy="245.60" r="2.30" fill="#b0122d" stroke="#520915" stroke-width="0.9"/>
<circle cx="325.10" cy="219.10" r="2.30" fill="#9799c2" stroke="#2e2f55" stroke-width="0.9"/>
<circle cx="325.10" cy="240.90" r="2.30" fill="#9799c2" stroke="#2e2f55" stroke-width="0.9"/>
<circle cx="325.10" cy="250.00" r="2.30" fill="#9799c2" stroke="#2e2f55" stroke-width="0.9"/>
<circle cx="325.10" cy="253.10" r="2.30" fill="#9799c2" stroke="#2e2f55" stroke-width="0.9"/>
<circle cx="332.90" cy="215.30" r="2.30" fill="#40464e" stroke="#16191c" stroke-width="0.9"/>
<circle cx="332.90" cy="223.50" r="2.30" fill="#40464e" stroke="#16191c" stroke-width="0.9"/>
<circle cx="332.90" cy="234.70" r="2.30" fill="#40464e" stroke="#16191c" stroke-width="0.9"/>
<circle cx="332.90" cy="237.80" r="2.30" fill="#40464e" stroke="#16191c" stroke-width="0.9"/>
<circle cx="332.90" cy="249.50" r="2.30" fill="#40464e" stroke="#16191c" stroke-width="0.9"/>
<circle cx="338.40" cy="235.50" r="2.30" fill="#b0122d" stroke="#520915" stroke-width="0.9"/>
<circle cx="338.40" cy="247.20" r="2.30" fill="#b0122d" stroke="#520915" stroke-width="0.9"/>
<circle cx="338.40" cy="258.10" r="2.30" fill="#b0122d" stroke="#520915" stroke-width="0.9"/>
<circle cx="338.40" cy="264.00" r="2.30" fill="#b0122d" stroke="#520915" stroke-width="0.9"/>
<circle cx="343.00" cy="240.60" r="2.30" fill="#9799c2" stroke="#2e2f55" stroke-width="0.9"/>
<circle cx="343.00" cy="260.40" r="2.30" fill="#9799c2" stroke="#2e2f55" stroke-width="0.9"/>
<circle cx="343.00" cy="263.50" r="2.30" fill="#9799c2" stroke="#2e2f55" stroke-width="0.9"/>
<circle cx="343.00" cy="266.60" r="2.30" fill="#9799c2" stroke="#2e2f55" stroke-width="0.9"/>
<circle cx="351.20" cy="260.00" r="2.30" fill="#40464e" stroke="#16191c" stroke-width="0.9"/>
<circle cx="351.20" cy="262.30" r="2.30" fill="#40464e" stroke="#16191c" stroke-width="0.9"/>
<circle cx="355.80" cy="259.20" r="2.30" fill="#b0122d" stroke="#520915" stroke-width="0.9"/>
<circle cx="355.80" cy="261.50" r="2.30" fill="#b0122d" stroke="#520915" stroke-width="0.9"/>
<circle cx="355.80" cy="266.50" r="2.30" fill="#b0122d" stroke="#520915" stroke-width="0.9"/>
<circle cx="361.20" cy="260.00" r="2.30" fill="#9799c2" stroke="#2e2f55" stroke-width="0.9"/>
<circle cx="361.20" cy="261.90" r="2.30" fill="#9799c2" stroke="#2e2f55" stroke-width="0.9"/>
<circle cx="369.20" cy="251.90" r="2.30" fill="#40464e" stroke="#16191c" stroke-width="0.9"/>
<circle cx="369.20" cy="253.80" r="2.30" fill="#40464e" stroke="#16191c" stroke-width="0.9"/>
<circle cx="369.20" cy="256.50" r="2.30" fill="#40464e" stroke="#16191c" stroke-width="0.9"/>
<circle cx="369.20" cy="259.20" r="2.30" fill="#40464e" stroke="#16191c" stroke-width="0.9"/>
<circle cx="373.80" cy="258.10" r="2.30" fill="#b0122d" stroke="#520915" stroke-width="0.9"/>
<circle cx="373.80" cy="260.00" r="2.30" fill="#b0122d" stroke="#520915" stroke-width="0.9"/>
<circle cx="378.80" cy="258.10" r="2.30" fill="#9799c2" stroke="#2e2f55" stroke-width="0.9"/>
<circle cx="378.80" cy="260.40" r="2.30" fill="#9799c2" stroke="#2e2f55" stroke-width="0.9"/>
<circle cx="378.80" cy="262.30" r="2.30" fill="#9799c2" stroke="#2e2f55" stroke-width="0.9"/>
<circle cx="284.90" cy="223.60" r="1.05" fill="#2b2b2b"/>
<circle cx="284.90" cy="226.80" r="1.05" fill="#2b2b2b"/>
<circle cx="289.60" cy="233.60" r="1.05" fill="#2b2b2b"/>
<circle cx="289.60" cy="237.00" r="1.05" fill="#2b2b2b"/>
<circle cx="303.00" cy="232.50" r="1.05" fill="#2b2b2b"/>
<circle cx="307.60" cy="239.30" r="1.05" fill="#2b2b2b"/>
<circle cx="307.60" cy="242.40" r="1.05" fill="#2b2b2b"/>
<circle cx="321.20" cy="188.40" r="1.05" fill="#2b2b2b"/>
<circle cx="321.20" cy="191.70" r="1.05" fill="#2b2b2b"/>
<circle cx="321.20" cy="195.00" r="1.05" fill="#2b2b2b"/>
<circle cx="325.90" cy="201.80" r="1.05" fill="#2b2b2b"/>
<circle cx="325.90" cy="205.00" r="1.05" fill="#2b2b2b"/>
<circle cx="325.90" cy="208.20" r="1.05" fill="#2b2b2b"/>
<circle cx="338.80" cy="212.10" r="1.05" fill="#2b2b2b"/>
<circle cx="338.80" cy="215.70" r="1.05" fill="#2b2b2b"/>
<circle cx="343.50" cy="221.60" r="1.05" fill="#2b2b2b"/>
<circle cx="343.50" cy="224.90" r="1.05" fill="#2b2b2b"/>
<circle cx="343.50" cy="228.20" r="1.05" fill="#2b2b2b"/>
<rect x="385.50" y="35.30" width="12.20" height="105.90" fill="#c3c1c7"/>
<text transform="translate(391.60,88.25) rotate(90)" x="0" y="2.75" font-size="8" text-anchor="middle" fill="#231f20" stroke="#231f20" stroke-width="0.05">JJN3 cells</text>
<rect x="385.50" y="160.10" width="12.20" height="106.20" fill="#c3c1c7"/>
<text transform="translate(391.60,213.20) rotate(90)" x="0" y="2.75" font-size="8" text-anchor="middle" fill="#231f20" stroke="#231f20" stroke-width="0.05">U266 cells</text>
<text x="329.70" y="17.87" font-size="9.8" text-anchor="middle" fill="#231f20">Mitochondrial metabolic</text>
<text x="329.10" y="29.67" font-size="9.8" text-anchor="middle" fill="#231f20">parameters</text>
<text transform="translate(245.60,89.00) rotate(-90)" x="0" y="3.16" font-size="9.2" text-anchor="middle" fill="#231f20" stroke="#231f20" stroke-width="0.3" textLength="51.5" lengthAdjust="spacingAndGlyphs">OCR (pmol/min)</text>
<text transform="translate(245.60,214.00) rotate(-90)" x="0" y="3.16" font-size="9.2" text-anchor="middle" fill="#231f20" stroke="#231f20" stroke-width="0.3" textLength="51.5" lengthAdjust="spacingAndGlyphs">OCR (pmol/min)</text>
<text transform="translate(284.30,271.30) rotate(-90)" x="0" y="2.82" font-size="8.2" text-anchor="end" fill="#231f20" stroke="#231f20" stroke-width="0.05">Basal</text>
<text transform="translate(302.20,271.30) rotate(-90)" x="0" y="2.82" font-size="8.2" text-anchor="end" fill="#231f20" stroke="#231f20" stroke-width="0.05">ATP production</text>
<text transform="translate(320.10,271.30) rotate(-90)" x="0" y="2.82" font-size="8.2" text-anchor="end" fill="#231f20" stroke="#231f20" stroke-width="0.05">Maximal</text>
<text transform="translate(337.90,271.30) rotate(-90)" x="0" y="2.82" font-size="8.2" text-anchor="end" fill="#231f20" stroke="#231f20" stroke-width="0.05">SPR</text>
<text transform="translate(355.80,271.30) rotate(-90)" x="0" y="2.82" font-size="8.2" text-anchor="end" fill="#231f20" stroke="#231f20" stroke-width="0.05">Proton leak</text>
<text transform="translate(373.70,271.30) rotate(-90)" x="0" y="2.82" font-size="8.2" text-anchor="end" fill="#231f20" stroke="#231f20" stroke-width="0.05">Non-mitochondrial</text>
<circle cx="262.40" cy="351.70" r="3.30" fill="#40464e" stroke="#16191c" stroke-width="0.8"/>
<text x="268.70" y="354.45" font-size="8" text-anchor="start" fill="#231f20" stroke="#231f20" stroke-width="0.05">sgCtrl</text>
<circle cx="295.40" cy="351.70" r="3.30" fill="#b0122d" stroke="#520915" stroke-width="0.8"/>
<text x="301.40" y="354.45" font-size="8" text-anchor="start" fill="#231f20" stroke="#231f20" stroke-width="0.05">sgMPC1 #1</text>
<circle cx="350.50" cy="351.70" r="3.30" fill="#9799c2" stroke="#2e2f55" stroke-width="0.8"/>
<text x="357.20" y="354.45" font-size="8" text-anchor="start" fill="#231f20" stroke="#231f20" stroke-width="0.05">sgMPC1 #2</text>
<line x1="477.30" y1="39.30" x2="477.30" y2="141.20" stroke="#babac0" stroke-width="0.9" stroke-dasharray="1.7,2.8" />
<rect x="457.50" y="35.50" width="40.00" height="106.00" fill="none" stroke="#231f20" stroke-width="1.25"/>
<line x1="454.50" y1="141.50" x2="457.50" y2="141.50" stroke="#231f20" stroke-width="1" />
<text x="450.90" y="143.76" font-size="8.6" text-anchor="end" fill="#231f20" stroke="#231f20" stroke-width="0.05">0</text>
<line x1="454.50" y1="105.50" x2="457.50" y2="105.50" stroke="#231f20" stroke-width="1" />
<text x="450.90" y="108.46" font-size="8.6" text-anchor="end" fill="#231f20" stroke="#231f20" stroke-width="0.05">50</text>
<line x1="454.50" y1="70.50" x2="457.50" y2="70.50" stroke="#231f20" stroke-width="1" />
<text x="450.90" y="73.16" font-size="8.6" text-anchor="end" fill="#231f20" stroke="#231f20" stroke-width="0.05">100</text>
<line x1="454.50" y1="35.50" x2="457.50" y2="35.50" stroke="#231f20" stroke-width="1" />
<text x="450.90" y="37.86" font-size="8.6" text-anchor="end" fill="#231f20" stroke="#231f20" stroke-width="0.05">150</text>
<circle cx="461.20" cy="93.50" r="2.30" fill="#40464e" stroke="#16191c" stroke-width="0.9"/>
<circle cx="461.20" cy="98.00" r="2.30" fill="#40464e" stroke="#16191c" stroke-width="0.9"/>
<circle cx="461.20" cy="101.50" r="2.30" fill="#40464e" stroke="#16191c" stroke-width="0.9"/>
<circle cx="461.20" cy="105.00" r="2.30" fill="#40464e" stroke="#16191c" stroke-width="0.9"/>
<circle cx="461.20" cy="108.50" r="2.30" fill="#40464e" stroke="#16191c" stroke-width="0.9"/>
<circle cx="467.00" cy="77.30" r="2.30" fill="#b0122d" stroke="#520915" stroke-width="0.9"/>
<circle cx="467.00" cy="80.80" r="2.30" fill="#b0122d" stroke="#520915" stroke-width="0.9"/>
<circle cx="467.00" cy="84.20" r="2.30" fill="#b0122d" stroke="#520915" stroke-width="0.9"/>
<circle cx="467.00" cy="87.20" r="2.30" fill="#b0122d" stroke="#520915" stroke-width="0.9"/>
<circle cx="467.00" cy="90.00" r="2.30" fill="#b0122d" stroke="#520915" stroke-width="0.9"/>
<circle cx="467.00" cy="91.90" r="2.30" fill="#b0122d" stroke="#520915" stroke-width="0.9"/>
<circle cx="472.70" cy="72.70" r="2.30" fill="#9799c2" stroke="#2e2f55" stroke-width="0.9"/>
<circle cx="472.70" cy="81.20" r="2.30" fill="#9799c2" stroke="#2e2f55" stroke-width="0.9"/>
<circle cx="472.70" cy="83.50" r="2.30" fill="#9799c2" stroke="#2e2f55" stroke-width="0.9"/>
<circle cx="472.70" cy="86.50" r="2.30" fill="#9799c2" stroke="#2e2f55" stroke-width="0.9"/>
<circle cx="472.70" cy="93.50" r="2.30" fill="#9799c2" stroke="#2e2f55" stroke-width="0.9"/>
<circle cx="482.10" cy="72.10" r="2.30" fill="#40464e" stroke="#16191c" stroke-width="0.9"/>
<circle cx="482.10" cy="86.00" r="2.30" fill="#40464e" stroke="#16191c" stroke-width="0.9"/>
<circle cx="482.10" cy="90.00" r="2.30" fill="#40464e" stroke="#16191c" stroke-width="0.9"/>
<circle cx="482.10" cy="93.90" r="2.30" fill="#40464e" stroke="#16191c" stroke-width="0.9"/>
<circle cx="487.80" cy="66.80" r="2.30" fill="#b0122d" stroke="#520915" stroke-width="0.9"/>
<circle cx="487.80" cy="71.90" r="2.30" fill="#b0122d" stroke="#520915" stroke-width="0.9"/>
<circle cx="487.80" cy="77.50" r="2.30" fill="#b0122d" stroke="#520915" stroke-width="0.9"/>
<circle cx="487.80" cy="83.20" r="2.30" fill="#b0122d" stroke="#520915" stroke-width="0.9"/>
<circle cx="493.50" cy="65.40" r="2.30" fill="#9799c2" stroke="#2e2f55" stroke-width="0.9"/>
<circle cx="493.50" cy="69.90" r="2.30" fill="#9799c2" stroke="#2e2f55" stroke-width="0.9"/>
<circle cx="493.50" cy="73.00" r="2.30" fill="#9799c2" stroke="#2e2f55" stroke-width="0.9"/>
<circle cx="493.50" cy="80.00" r="2.30" fill="#9799c2" stroke="#2e2f55" stroke-width="0.9"/>
<circle cx="493.50" cy="86.00" r="2.30" fill="#9799c2" stroke="#2e2f55" stroke-width="0.9"/>
<circle cx="467.40" cy="64.60" r="1.05" fill="#2b2b2b"/>
<circle cx="467.40" cy="67.60" r="1.05" fill="#2b2b2b"/>
<circle cx="473.00" cy="56.50" r="1.05" fill="#2b2b2b"/>
<circle cx="473.00" cy="59.50" r="1.05" fill="#2b2b2b"/>
<line x1="477.30" y1="164.40" x2="477.30" y2="266.00" stroke="#babac0" stroke-width="0.9" stroke-dasharray="1.7,2.8" />
<rect x="457.50" y="160.50" width="40.00" height="106.00" fill="none" stroke="#231f20" stroke-width="1.25"/>
<line x1="454.50" y1="266.50" x2="457.50" y2="266.50" stroke="#231f20" stroke-width="1" />
<text x="450.90" y="268.56" font-size="8.6" text-anchor="end" fill="#231f20" stroke="#231f20" stroke-width="0.05">0</text>
<line x1="454.50" y1="230.50" x2="457.50" y2="230.50" stroke="#231f20" stroke-width="1" />
<text x="450.90" y="233.36" font-size="8.6" text-anchor="end" fill="#231f20" stroke="#231f20" stroke-width="0.05">50</text>
<line x1="454.50" y1="195.50" x2="457.50" y2="195.50" stroke="#231f20" stroke-width="1" />
<text x="450.90" y="198.16" font-size="8.6" text-anchor="end" fill="#231f20" stroke="#231f20" stroke-width="0.05">100</text>
<line x1="454.50" y1="160.50" x2="457.50" y2="160.50" stroke="#231f20" stroke-width="1" />
<text x="450.90" y="162.96" font-size="8.6" text-anchor="end" fill="#231f20" stroke="#231f20" stroke-width="0.05">150</text>
<line x1="467.50" y1="266.00" x2="467.50" y2="269.00" stroke="#231f20" stroke-width="1" />
<line x1="487.50" y1="266.00" x2="487.50" y2="269.00" stroke="#231f20" stroke-width="1" />
<circle cx="461.20" cy="219.20" r="2.30" fill="#40464e" stroke="#16191c" stroke-width="0.9"/>
<circle cx="461.20" cy="224.20" r="2.30" fill="#40464e" stroke="#16191c" stroke-width="0.9"/>
<circle cx="461.20" cy="229.50" r="2.30" fill="#40464e" stroke="#16191c" stroke-width="0.9"/>
<circle cx="461.20" cy="238.80" r="2.30" fill="#40464e" stroke="#16191c" stroke-width="0.9"/>
<circle cx="467.00" cy="193.10" r="2.30" fill="#b0122d" stroke="#520915" stroke-width="0.9"/>
<circle cx="467.00" cy="208.50" r="2.30" fill="#b0122d" stroke="#520915" stroke-width="0.9"/>
<circle cx="467.00" cy="213.80" r="2.30" fill="#b0122d" stroke="#520915" stroke-width="0.9"/>
<circle cx="467.00" cy="219.20" r="2.30" fill="#b0122d" stroke="#520915" stroke-width="0.9"/>
<circle cx="472.70" cy="204.60" r="2.30" fill="#9799c2" stroke="#2e2f55" stroke-width="0.9"/>
<circle cx="472.70" cy="209.90" r="2.30" fill="#9799c2" stroke="#2e2f55" stroke-width="0.9"/>
<circle cx="472.70" cy="212.00" r="2.30" fill="#9799c2" stroke="#2e2f55" stroke-width="0.9"/>
<circle cx="472.70" cy="216.20" r="2.30" fill="#9799c2" stroke="#2e2f55" stroke-width="0.9"/>
<circle cx="482.00" cy="195.40" r="2.30" fill="#40464e" stroke="#16191c" stroke-width="0.9"/>
<circle cx="482.00" cy="197.70" r="2.30" fill="#40464e" stroke="#16191c" stroke-width="0.9"/>
<circle cx="482.00" cy="211.00" r="2.30" fill="#40464e" stroke="#16191c" stroke-width="0.9"/>
<circle cx="482.00" cy="213.40" r="2.30" fill="#40464e" stroke="#16191c" stroke-width="0.9"/>
<circle cx="487.70" cy="185.50" r="2.30" fill="#b0122d" stroke="#520915" stroke-width="0.9"/>
<circle cx="487.70" cy="194.20" r="2.30" fill="#b0122d" stroke="#520915" stroke-width="0.9"/>
<circle cx="487.70" cy="199.50" r="2.30" fill="#b0122d" stroke="#520915" stroke-width="0.9"/>
<circle cx="487.70" cy="207.40" r="2.30" fill="#b0122d" stroke="#520915" stroke-width="0.9"/>
<circle cx="493.50" cy="195.40" r="2.30" fill="#9799c2" stroke="#2e2f55" stroke-width="0.9"/>
<circle cx="493.50" cy="198.80" r="2.30" fill="#9799c2" stroke="#2e2f55" stroke-width="0.9"/>
<circle cx="493.50" cy="204.20" r="2.30" fill="#9799c2" stroke="#2e2f55" stroke-width="0.9"/>
<circle cx="493.50" cy="207.00" r="2.30" fill="#9799c2" stroke="#2e2f55" stroke-width="0.9"/>
<circle cx="467.50" cy="177.40" r="1.05" fill="#2b2b2b"/>
<circle cx="467.50" cy="180.60" r="1.05" fill="#2b2b2b"/>
<circle cx="473.00" cy="188.50" r="1.05" fill="#2b2b2b"/>
<circle cx="473.00" cy="191.70" r="1.05" fill="#2b2b2b"/>
<circle cx="487.50" cy="174.60" r="1.05" fill="#2b2b2b"/>
<circle cx="493.50" cy="183.20" r="1.05" fill="#2b2b2b"/>
<rect x="500.90" y="35.30" width="12.00" height="105.90" fill="#c3c1c7"/>
<text transform="translate(506.90,88.25) rotate(90)" x="0" y="2.75" font-size="8" text-anchor="middle" fill="#231f20" stroke="#231f20" stroke-width="0.05">JJN3 cells</text>
<rect x="500.90" y="160.40" width="12.00" height="105.60" fill="#c3c1c7"/>
<text transform="translate(506.90,213.20) rotate(90)" x="0" y="2.75" font-size="8" text-anchor="middle" fill="#231f20" stroke="#231f20" stroke-width="0.05">U266 cells</text>
<text x="484.90" y="17.70" font-size="9.6" text-anchor="middle" fill="#231f20">Extracellular</text>
<text x="485.00" y="29.60" font-size="9.6" text-anchor="middle" fill="#231f20">acidification</text>
<text transform="translate(428.30,88.50) rotate(-90)" x="0" y="3.16" font-size="9.2" text-anchor="middle" fill="#231f20" stroke="#231f20" stroke-width="0.3" textLength="54" lengthAdjust="spacingAndGlyphs">ECAR (pmol/min)</text>
<text transform="translate(428.30,213.30) rotate(-90)" x="0" y="3.16" font-size="9.2" text-anchor="middle" fill="#231f20" stroke="#231f20" stroke-width="0.3" textLength="54" lengthAdjust="spacingAndGlyphs">ECAR (pmol/min)</text>
<text transform="translate(467.00,273.00) rotate(-90)" x="0" y="2.82" font-size="8.2" text-anchor="end" fill="#231f20" stroke="#231f20" stroke-width="0.05">Basal</text>
<text transform="translate(487.70,273.00) rotate(-90)" x="0" y="2.82" font-size="8.2" text-anchor="end" fill="#231f20" stroke="#231f20" stroke-width="0.05">Stressed</text>
<circle cx="454.60" cy="318.70" r="3.40" fill="#40464e" stroke="#16191c" stroke-width="0.8"/>
<text x="461.00" y="321.45" font-size="8" text-anchor="start" fill="#231f20" stroke="#231f20" stroke-width="0.05">sgCtrl</text>
<circle cx="454.60" cy="330.80" r="3.40" fill="#b0122d" stroke="#520915" stroke-width="0.8"/>
<text x="461.00" y="333.55" font-size="8" text-anchor="start" fill="#231f20" stroke="#231f20" stroke-width="0.05">sgMPC1 #1</text>
<circle cx="454.60" cy="342.70" r="3.40" fill="#9799c2" stroke="#2e2f55" stroke-width="0.8"/>
<text x="461.00" y="345.45" font-size="8" text-anchor="start" fill="#231f20" stroke="#231f20" stroke-width="0.05">sgMPC1 #2</text>
<line x1="72.50" y1="404.40" x2="72.50" y2="507.60" stroke="#babac0" stroke-width="0.9" stroke-dasharray="1.7,2.8" />
<rect x="44.50" y="400.50" width="54.00" height="107.00" fill="none" stroke="#231f20" stroke-width="1.25"/>
<line x1="41.50" y1="507.50" x2="44.50" y2="507.50" stroke="#231f20" stroke-width="1" />
<text x="38.10" y="510.16" font-size="8.6" text-anchor="end" fill="#231f20" stroke="#231f20" stroke-width="0.05">0</text>
<line x1="41.50" y1="480.50" x2="44.50" y2="480.50" stroke="#231f20" stroke-width="1" />
<text x="38.10" y="483.36" font-size="8.6" text-anchor="end" fill="#231f20" stroke="#231f20" stroke-width="0.05">1</text>
<line x1="41.50" y1="454.50" x2="44.50" y2="454.50" stroke="#231f20" stroke-width="1" />
<text x="38.10" y="456.56" font-size="8.6" text-anchor="end" fill="#231f20" stroke="#231f20" stroke-width="0.05">2</text>
<line x1="41.50" y1="427.50" x2="44.50" y2="427.50" stroke="#231f20" stroke-width="1" />
<text x="38.10" y="429.76" font-size="8.6" text-anchor="end" fill="#231f20" stroke="#231f20" stroke-width="0.05">3</text>
<line x1="41.50" y1="400.50" x2="44.50" y2="400.50" stroke="#231f20" stroke-width="1" />
<text x="38.10" y="402.96" font-size="8.6" text-anchor="end" fill="#231f20" stroke="#231f20" stroke-width="0.05">4</text>
<circle cx="48.75" cy="450.50" r="2.10" fill="#fff" stroke="#222" stroke-width="0.8"/>
<circle cx="76.10" cy="507.80" r="2.10" fill="#fff" stroke="#222" stroke-width="0.8"/>
<circle cx="54.50" cy="467.00" r="2.30" fill="#40464e" stroke="#16191c" stroke-width="0.9"/>
<circle cx="54.50" cy="468.75" r="2.30" fill="#40464e" stroke="#16191c" stroke-width="0.9"/>
<circle cx="54.50" cy="470.75" r="2.30" fill="#40464e" stroke="#16191c" stroke-width="0.9"/>
<circle cx="54.50" cy="473.00" r="2.30" fill="#40464e" stroke="#16191c" stroke-width="0.9"/>
<circle cx="60.00" cy="480.50" r="2.30" fill="#b0122d" stroke="#520915" stroke-width="0.9"/>
<circle cx="60.00" cy="487.00" r="2.30" fill="#b0122d" stroke="#520915" stroke-width="0.9"/>
<circle cx="60.00" cy="489.50" r="2.30" fill="#b0122d" stroke="#520915" stroke-width="0.9"/>
<circle cx="60.00" cy="492.50" r="2.30" fill="#b0122d" stroke="#520915" stroke-width="0.9"/>
<circle cx="66.25" cy="483.25" r="2.30" fill="#9799c2" stroke="#2e2f55" stroke-width="0.9"/>
<circle cx="66.25" cy="487.50" r="2.30" fill="#9799c2" stroke="#2e2f55" stroke-width="0.9"/>
<circle cx="66.25" cy="494.25" r="2.30" fill="#9799c2" stroke="#2e2f55" stroke-width="0.9"/>
<circle cx="82.00" cy="479.50" r="2.30" fill="#40464e" stroke="#16191c" stroke-width="0.9"/>
<circle cx="82.00" cy="490.00" r="2.30" fill="#40464e" stroke="#16191c" stroke-width="0.9"/>
<circle cx="82.00" cy="492.00" r="2.30" fill="#40464e" stroke="#16191c" stroke-width="0.9"/>
<circle cx="82.00" cy="499.50" r="2.30" fill="#40464e" stroke="#16191c" stroke-width="0.9"/>
<circle cx="88.00" cy="450.50" r="2.30" fill="#b0122d" stroke="#520915" stroke-width="0.9"/>
<circle cx="88.00" cy="466.25" r="2.30" fill="#b0122d" stroke="#520915" stroke-width="0.9"/>
<circle cx="88.00" cy="468.25" r="2.30" fill="#b0122d" stroke="#520915" stroke-width="0.9"/>
<circle cx="94.25" cy="424.50" r="2.30" fill="#9799c2" stroke="#2e2f55" stroke-width="0.9"/>
<circle cx="94.25" cy="461.25" r="2.30" fill="#9799c2" stroke="#2e2f55" stroke-width="0.9"/>
<circle cx="94.25" cy="464.50" r="2.30" fill="#9799c2" stroke="#2e2f55" stroke-width="0.9"/>
<circle cx="54.50" cy="459.50" r="1.05" fill="#2b2b2b"/>
<circle cx="60.50" cy="466.20" r="1.05" fill="#2b2b2b"/>
<circle cx="60.50" cy="469.00" r="1.05" fill="#2b2b2b"/>
<circle cx="60.50" cy="471.80" r="1.05" fill="#2b2b2b"/>
<circle cx="66.25" cy="469.00" r="1.05" fill="#2b2b2b"/>
<circle cx="66.25" cy="472.00" r="1.05" fill="#2b2b2b"/>
<circle cx="66.25" cy="475.00" r="1.05" fill="#2b2b2b"/>
<circle cx="82.00" cy="472.00" r="1.05" fill="#2b2b2b"/>
<circle cx="88.00" cy="436.40" r="1.05" fill="#2b2b2b"/>
<circle cx="88.00" cy="439.40" r="1.05" fill="#2b2b2b"/>
<circle cx="88.00" cy="442.40" r="1.05" fill="#2b2b2b"/>
<circle cx="94.25" cy="410.20" r="1.05" fill="#2b2b2b"/>
<circle cx="94.25" cy="413.20" r="1.05" fill="#2b2b2b"/>
<circle cx="94.25" cy="416.20" r="1.05" fill="#2b2b2b"/>
<line x1="72.50" y1="531.20" x2="72.50" y2="632.80" stroke="#babac0" stroke-width="0.9" stroke-dasharray="1.7,2.8" />
<rect x="44.50" y="527.50" width="53.00" height="105.00" fill="none" stroke="#231f20" stroke-width="1.25"/>
<line x1="41.50" y1="632.50" x2="44.50" y2="632.50" stroke="#231f20" stroke-width="1" />
<text x="38.10" y="635.36" font-size="8.6" text-anchor="end" fill="#231f20" stroke="#231f20" stroke-width="0.05">0</text>
<line x1="41.50" y1="611.50" x2="44.50" y2="611.50" stroke="#231f20" stroke-width="1" />
<text x="38.10" y="614.24" font-size="8.6" text-anchor="end" fill="#231f20" stroke="#231f20" stroke-width="0.05">1</text>
<line x1="41.50" y1="590.50" x2="44.50" y2="590.50" stroke="#231f20" stroke-width="1" />
<text x="38.10" y="593.12" font-size="8.6" text-anchor="end" fill="#231f20" stroke="#231f20" stroke-width="0.05">2</text>
<line x1="41.50" y1="569.50" x2="44.50" y2="569.50" stroke="#231f20" stroke-width="1" />
<text x="38.10" y="572.00" font-size="8.6" text-anchor="end" fill="#231f20" stroke="#231f20" stroke-width="0.05">3</text>
<line x1="41.50" y1="548.50" x2="44.50" y2="548.50" stroke="#231f20" stroke-width="1" />
<text x="38.10" y="550.88" font-size="8.6" text-anchor="end" fill="#231f20" stroke="#231f20" stroke-width="0.05">4</text>
<line x1="41.50" y1="527.50" x2="44.50" y2="527.50" stroke="#231f20" stroke-width="1" />
<text x="38.10" y="529.76" font-size="8.6" text-anchor="end" fill="#231f20" stroke="#231f20" stroke-width="0.05">5</text>
<line x1="57.50" y1="632.80" x2="57.50" y2="635.80" stroke="#231f20" stroke-width="1" />
<line x1="84.50" y1="632.80" x2="84.50" y2="635.80" stroke="#231f20" stroke-width="1" />
<circle cx="48.70" cy="584.50" r="2.10" fill="#fff" stroke="#222" stroke-width="0.8"/>
<circle cx="48.50" cy="587.60" r="2.10" fill="#fff" stroke="#222" stroke-width="0.8"/>
<circle cx="76.10" cy="633.00" r="2.10" fill="#fff" stroke="#222" stroke-width="0.8"/>
<circle cx="54.20" cy="599.60" r="2.30" fill="#40464e" stroke="#16191c" stroke-width="0.9"/>
<circle cx="54.20" cy="602.50" r="2.30" fill="#40464e" stroke="#16191c" stroke-width="0.9"/>
<circle cx="54.20" cy="604.80" r="2.30" fill="#40464e" stroke="#16191c" stroke-width="0.9"/>
<circle cx="54.20" cy="606.90" r="2.30" fill="#40464e" stroke="#16191c" stroke-width="0.9"/>
<circle cx="60.90" cy="614.20" r="2.30" fill="#b0122d" stroke="#520915" stroke-width="0.9"/>
<circle cx="60.90" cy="617.10" r="2.30" fill="#b0122d" stroke="#520915" stroke-width="0.9"/>
<circle cx="60.90" cy="619.50" r="2.30" fill="#b0122d" stroke="#520915" stroke-width="0.9"/>
<circle cx="60.90" cy="622.40" r="2.30" fill="#b0122d" stroke="#520915" stroke-width="0.9"/>
<circle cx="66.80" cy="616.50" r="2.30" fill="#9799c2" stroke="#2e2f55" stroke-width="0.9"/>
<circle cx="66.80" cy="621.50" r="2.30" fill="#9799c2" stroke="#2e2f55" stroke-width="0.9"/>
<circle cx="66.80" cy="626.50" r="2.30" fill="#9799c2" stroke="#2e2f55" stroke-width="0.9"/>
<circle cx="82.60" cy="611.90" r="2.30" fill="#40464e" stroke="#16191c" stroke-width="0.9"/>
<circle cx="82.60" cy="615.00" r="2.30" fill="#40464e" stroke="#16191c" stroke-width="0.9"/>
<circle cx="82.60" cy="618.60" r="2.30" fill="#40464e" stroke="#16191c" stroke-width="0.9"/>
<circle cx="82.60" cy="625.90" r="2.30" fill="#40464e" stroke="#16191c" stroke-width="0.9"/>
<circle cx="87.80" cy="578.50" r="2.30" fill="#b0122d" stroke="#520915" stroke-width="0.9"/>
<circle cx="87.80" cy="585.50" r="2.30" fill="#b0122d" stroke="#520915" stroke-width="0.9"/>
<circle cx="87.80" cy="594.30" r="2.30" fill="#b0122d" stroke="#520915" stroke-width="0.9"/>
<circle cx="87.80" cy="601.00" r="2.30" fill="#b0122d" stroke="#520915" stroke-width="0.9"/>
<circle cx="93.70" cy="543.90" r="2.30" fill="#9799c2" stroke="#2e2f55" stroke-width="0.9"/>
<circle cx="93.70" cy="558.00" r="2.30" fill="#9799c2" stroke="#2e2f55" stroke-width="0.9"/>
<circle cx="93.70" cy="571.70" r="2.30" fill="#9799c2" stroke="#2e2f55" stroke-width="0.9"/>
<circle cx="93.70" cy="573.80" r="2.30" fill="#9799c2" stroke="#2e2f55" stroke-width="0.9"/>
<circle cx="93.70" cy="599.60" r="2.30" fill="#9799c2" stroke="#2e2f55" stroke-width="0.9"/>
<circle cx="54.50" cy="591.40" r="1.05" fill="#2b2b2b"/>
<circle cx="61.00" cy="600.40" r="1.05" fill="#2b2b2b"/>
<circle cx="67.00" cy="606.00" r="1.05" fill="#2b2b2b"/>
<circle cx="67.00" cy="609.00" r="1.05" fill="#2b2b2b"/>
<circle cx="87.50" cy="563.20" r="1.05" fill="#2b2b2b"/>
<circle cx="87.50" cy="566.60" r="1.05" fill="#2b2b2b"/>
<circle cx="87.50" cy="570.00" r="1.05" fill="#2b2b2b"/>
<circle cx="93.70" cy="530.80" r="1.05" fill="#2b2b2b"/>
<circle cx="93.70" cy="533.20" r="1.05" fill="#2b2b2b"/>
<circle cx="93.70" cy="535.60" r="1.05" fill="#2b2b2b"/>
<circle cx="93.70" cy="538.00" r="1.05" fill="#2b2b2b"/>
<rect x="101.50" y="400.40" width="11.60" height="107.20" fill="#c3c1c7"/>
<text transform="translate(107.30,454.00) rotate(90)" x="0" y="2.75" font-size="8" text-anchor="middle" fill="#231f20" stroke="#231f20" stroke-width="0.05">JJN3 cells</text>
<rect x="101.30" y="527.20" width="11.60" height="105.60" fill="#c3c1c7"/>
<text transform="translate(107.10,580.00) rotate(90)" x="0" y="2.75" font-size="8" text-anchor="middle" fill="#231f20" stroke="#231f20" stroke-width="0.05">U266 cells</text>
<text x="71.60" y="382.87" font-size="9.8" text-anchor="middle" fill="#231f20">Metabolite</text>
<text x="71.60" y="395.37" font-size="9.8" text-anchor="middle" fill="#231f20">analysis</text>
<text transform="translate(24.60,454.50) rotate(-90)" x="0" y="3.16" font-size="9.2" text-anchor="middle" fill="#231f20" stroke="#231f20" stroke-width="0.3" textLength="43" lengthAdjust="spacingAndGlyphs">Amount (mM)</text>
<text transform="translate(24.60,580.40) rotate(-90)" x="0" y="3.16" font-size="9.2" text-anchor="middle" fill="#231f20" stroke="#231f20" stroke-width="0.3" textLength="43" lengthAdjust="spacingAndGlyphs">Amount (mM)</text>
<text transform="translate(57.10,640.00) rotate(-90)" x="0" y="2.82" font-size="8.2" text-anchor="end" fill="#231f20" stroke="#231f20" stroke-width="0.05">Glucose</text>
<text transform="translate(84.90,640.00) rotate(-90)" x="0" y="2.82" font-size="8.2" text-anchor="end" fill="#231f20" stroke="#231f20" stroke-width="0.05">Lactate</text>
<circle cx="24.20" cy="683.70" r="2.90" fill="#fff" stroke="#222" stroke-width="0.9"/>
<text x="30.40" y="686.45" font-size="8" text-anchor="start" fill="#231f20" stroke="#231f20" stroke-width="0.05">Media</text>
<circle cx="63.50" cy="683.70" r="3.00" fill="#b0122d" stroke="#520915" stroke-width="0.9"/>
<text x="69.80" y="686.45" font-size="8" text-anchor="start" fill="#231f20" stroke="#231f20" stroke-width="0.05">sgMPC1 #1</text>
<circle cx="24.20" cy="695.10" r="3.00" fill="#40464e" stroke="#16191c" stroke-width="0.9"/>
<text x="30.40" y="697.85" font-size="8" text-anchor="start" fill="#231f20" stroke="#231f20" stroke-width="0.05">sgCtrl</text>
<circle cx="63.50" cy="695.10" r="3.00" fill="#9799c2" stroke="#2e2f55" stroke-width="0.9"/>
<text x="69.80" y="697.85" font-size="8" text-anchor="start" fill="#231f20" stroke="#231f20" stroke-width="0.05">sgMPC1 #2</text>
<rect x="181.00" y="461.70" width="52.10" height="35.10" fill="#3d4b5b"/>
<rect x="181.00" y="483.80" width="93.00" height="13.00" fill="#c0112e"/>
<rect x="181.00" y="487.70" width="91.10" height="9.10" fill="#9a8dd0"/>
<line x1="233.10" y1="485.20" x2="233.10" y2="496.80" stroke="#2a2a3a" stroke-width="0.8" />
<rect x="181.50" y="388.50" width="109.00" height="108.00" fill="none" stroke="#231f20" stroke-width="1.25"/>
<line x1="178.50" y1="496.50" x2="181.50" y2="496.50" stroke="#231f20" stroke-width="1" />
<text x="174.40" y="499.36" font-size="8.6" text-anchor="end" fill="#231f20" stroke="#231f20" stroke-width="0.05">0</text>
<line x1="178.50" y1="469.50" x2="181.50" y2="469.50" stroke="#231f20" stroke-width="1" />
<text x="174.40" y="472.31" font-size="8.6" text-anchor="end" fill="#231f20" stroke="#231f20" stroke-width="0.05">500</text>
<line x1="178.50" y1="442.50" x2="181.50" y2="442.50" stroke="#231f20" stroke-width="1" />
<text x="174.40" y="445.26" font-size="8.6" text-anchor="end" fill="#231f20" stroke="#231f20" stroke-width="0.05">1000</text>
<line x1="178.50" y1="415.50" x2="181.50" y2="415.50" stroke="#231f20" stroke-width="1" />
<text x="174.40" y="418.21" font-size="8.6" text-anchor="end" fill="#231f20" stroke="#231f20" stroke-width="0.05">1500</text>
<line x1="178.50" y1="388.50" x2="181.50" y2="388.50" stroke="#231f20" stroke-width="1" />
<text x="174.40" y="391.16" font-size="8.6" text-anchor="end" fill="#231f20" stroke="#231f20" stroke-width="0.05">2000</text>
<line x1="181.50" y1="496.80" x2="181.50" y2="499.80" stroke="#231f20" stroke-width="1" />
<text x="181.00" y="510.76" font-size="8.6" text-anchor="middle" fill="#231f20" stroke="#231f20" stroke-width="0.05">500</text>
<line x1="217.50" y1="496.80" x2="217.50" y2="499.80" stroke="#231f20" stroke-width="1" />
<text x="217.47" y="510.76" font-size="8.6" text-anchor="middle" fill="#231f20" stroke="#231f20" stroke-width="0.05">1000</text>
<line x1="253.50" y1="496.80" x2="253.50" y2="499.80" stroke="#231f20" stroke-width="1" />
<text x="253.93" y="510.76" font-size="8.6" text-anchor="middle" fill="#231f20" stroke="#231f20" stroke-width="0.05">1500</text>
<line x1="290.50" y1="496.80" x2="290.50" y2="499.80" stroke="#231f20" stroke-width="1" />
<text x="290.40" y="510.76" font-size="8.6" text-anchor="middle" fill="#231f20" stroke="#231f20" stroke-width="0.05">2000</text>
<line x1="227.50" y1="455.60" x2="227.50" y2="468.60" stroke="#333" stroke-width="0.7" />
<line x1="225.50" y1="455.60" x2="229.50" y2="455.60" stroke="#555" stroke-width="0.7" />
<polygon points="227.50,459.10 230.50,462.10 227.50,465.10 224.50,462.10" fill="#b5102e" stroke="#4a0818" stroke-width="0.7"/>
<circle cx="230.80" cy="485.20" r="2.60" fill="#fff" stroke="#1a1a1a" stroke-width="1.0"/>
<rect x="270.95" y="482.55" width="4.50" height="4.50" fill="#a81232" stroke="#222" stroke-width="0.7"/>
<rect x="271.70" y="487.70" width="4.20" height="4.20" fill="#fff" stroke="#222" stroke-width="0.7"/>
<polygon points="270.70,488.10 272.70,492.10 268.70,492.10" fill="#2c2c55" stroke="#222" stroke-width="0.7"/>
<rect x="271.10" y="495.10" width="4.20" height="4.20" fill="#f0c010" stroke="#222" stroke-width="0.7"/>
<polygon points="275.40,495.02 277.60,499.38 273.20,499.38" fill="#f0c010" stroke="#222" stroke-width="0.7"/>
<circle cx="233.30" cy="497.10" r="2.60" fill="#f0c010" stroke="#222" stroke-width="0.7"/>
<rect x="181.30" y="596.20" width="49.80" height="39.30" fill="#3d4b5b"/>
<rect x="181.30" y="620.40" width="82.10" height="15.10" fill="#c0112e"/>
<rect x="181.30" y="626.60" width="81.40" height="8.90" fill="#9a8dd0"/>
<line x1="231.10" y1="616.50" x2="231.10" y2="635.50" stroke="#2a2a3a" stroke-width="0.8" />
<rect x="181.50" y="527.50" width="108.00" height="108.00" fill="none" stroke="#231f20" stroke-width="1.25"/>
<line x1="178.50" y1="635.50" x2="181.50" y2="635.50" stroke="#231f20" stroke-width="1" />
<text x="174.70" y="638.06" font-size="8.6" text-anchor="end" fill="#231f20" stroke="#231f20" stroke-width="0.05">0</text>
<line x1="178.50" y1="608.50" x2="181.50" y2="608.50" stroke="#231f20" stroke-width="1" />
<text x="174.70" y="610.93" font-size="8.6" text-anchor="end" fill="#231f20" stroke="#231f20" stroke-width="0.05">500</text>
<line x1="178.50" y1="581.50" x2="181.50" y2="581.50" stroke="#231f20" stroke-width="1" />
<text x="174.70" y="583.81" font-size="8.6" text-anchor="end" fill="#231f20" stroke="#231f20" stroke-width="0.05">1000</text>
<line x1="178.50" y1="554.50" x2="181.50" y2="554.50" stroke="#231f20" stroke-width="1" />
<text x="174.70" y="556.68" font-size="8.6" text-anchor="end" fill="#231f20" stroke="#231f20" stroke-width="0.05">1500</text>
<line x1="178.50" y1="527.50" x2="181.50" y2="527.50" stroke="#231f20" stroke-width="1" />
<text x="174.70" y="529.56" font-size="8.6" text-anchor="end" fill="#231f20" stroke="#231f20" stroke-width="0.05">2000</text>
<line x1="181.50" y1="635.50" x2="181.50" y2="638.50" stroke="#231f20" stroke-width="1" />
<text x="181.30" y="649.46" font-size="8.6" text-anchor="middle" fill="#231f20" stroke="#231f20" stroke-width="0.05">500</text>
<line x1="217.50" y1="635.50" x2="217.50" y2="638.50" stroke="#231f20" stroke-width="1" />
<text x="217.47" y="649.46" font-size="8.6" text-anchor="middle" fill="#231f20" stroke="#231f20" stroke-width="0.05">1000</text>
<line x1="253.50" y1="635.50" x2="253.50" y2="638.50" stroke="#231f20" stroke-width="1" />
<text x="253.63" y="649.46" font-size="8.6" text-anchor="middle" fill="#231f20" stroke="#231f20" stroke-width="0.05">1500</text>
<line x1="289.50" y1="635.50" x2="289.50" y2="638.50" stroke="#231f20" stroke-width="1" />
<text x="289.80" y="649.46" font-size="8.6" text-anchor="middle" fill="#231f20" stroke="#231f20" stroke-width="0.05">2000</text>
<line x1="223.50" y1="589.90" x2="223.50" y2="602.90" stroke="#333" stroke-width="0.7" />
<line x1="221.50" y1="589.90" x2="225.50" y2="589.90" stroke="#555" stroke-width="0.7" />
<polygon points="223.50,593.40 226.50,596.40 223.50,599.40 220.50,596.40" fill="#b5102e" stroke="#4a0818" stroke-width="0.7"/>
<circle cx="227.60" cy="616.50" r="2.60" fill="#fff" stroke="#1a1a1a" stroke-width="1.0"/>
<rect x="259.05" y="618.05" width="4.50" height="4.50" fill="#a81232" stroke="#222" stroke-width="0.7"/>
<rect x="260.20" y="624.70" width="4.20" height="4.20" fill="#fff" stroke="#222" stroke-width="0.7"/>
<polygon points="266.70,626.40 268.70,630.40 264.70,630.40" fill="#fff" stroke="#222" stroke-width="0.7"/>
<rect x="261.70" y="632.90" width="4.20" height="4.20" fill="#f0c010" stroke="#222" stroke-width="0.7"/>
<polygon points="266.60,632.92 268.80,637.28 264.40,637.28" fill="#f0c010" stroke="#222" stroke-width="0.7"/>
<circle cx="230.40" cy="635.20" r="2.60" fill="#f0c010" stroke="#222" stroke-width="0.7"/>
<rect x="294.30" y="388.60" width="11.70" height="108.20" fill="#c3c1c7"/>
<text transform="translate(300.15,442.70) rotate(90)" x="0" y="2.75" font-size="8" text-anchor="middle" fill="#231f20" stroke="#231f20" stroke-width="0.05">JJN3 cells</text>
<rect x="294.30" y="527.00" width="11.70" height="108.50" fill="#c3c1c7"/>
<text transform="translate(300.15,581.25) rotate(90)" x="0" y="2.75" font-size="8" text-anchor="middle" fill="#231f20" stroke="#231f20" stroke-width="0.05">U266 cells</text>
<text x="235.80" y="383.17" font-size="9.8" text-anchor="middle" fill="#231f20">ATP production</text>
<text transform="translate(145.60,442.60) rotate(-90)" x="0" y="3.16" font-size="9.2" text-anchor="middle" fill="#231f20" stroke="#231f20" stroke-width="0.3" textLength="69.3" lengthAdjust="spacingAndGlyphs">JATP (Ox) (pmol/min)</text>
<text transform="translate(145.60,581.50) rotate(-90)" x="0" y="3.16" font-size="9.2" text-anchor="middle" fill="#231f20" stroke="#231f20" stroke-width="0.3" textLength="69.3" lengthAdjust="spacingAndGlyphs">JATP (Ox) (pmol/min)</text>
<text x="235.40" y="662.76" font-size="9.2" text-anchor="middle" fill="#231f20" stroke="#231f20" stroke-width="0.3" textLength="73.8" lengthAdjust="spacingAndGlyphs">JATP (Glyc) (pmol/min)</text>
<text x="316.90" y="446.15" font-size="8" text-anchor="start" fill="#231f20" stroke="#231f20" stroke-width="0.05">sgCtrl</text>
<circle cx="318.80" cy="458.40" r="3.20" fill="#fff" stroke="#222" stroke-width="0.8"/>
<text x="325.70" y="461.15" font-size="8" text-anchor="start" fill="#231f20" stroke="#231f20" stroke-width="0.05">Basal</text>
<circle cx="318.80" cy="470.40" r="3.20" fill="#c0112e" stroke="#222" stroke-width="0.8"/>
<text x="325.70" y="473.15" font-size="8" text-anchor="start" fill="#231f20" stroke="#231f20" stroke-width="0.05">Maximal</text>
<circle cx="318.80" cy="482.60" r="3.20" fill="#f0c010" stroke="#222" stroke-width="0.8"/>
<text x="325.70" y="485.35" font-size="8" text-anchor="start" fill="#231f20" stroke="#231f20" stroke-width="0.05">Oligomycin</text>
<text x="316.90" y="503.35" font-size="8" text-anchor="start" fill="#231f20" stroke="#231f20" stroke-width="0.05">sgMPC1 #1</text>
<rect x="315.90" y="512.50" width="5.80" height="5.80" fill="#fff" stroke="#222" stroke-width="0.7"/>
<text x="325.70" y="518.15" font-size="8" text-anchor="start" fill="#231f20" stroke="#231f20" stroke-width="0.05">Basal</text>
<rect x="315.90" y="524.60" width="5.80" height="5.80" fill="#c0112e" stroke="#222" stroke-width="0.7"/>
<text x="325.70" y="530.25" font-size="8" text-anchor="start" fill="#231f20" stroke="#231f20" stroke-width="0.05">Maximal</text>
<rect x="315.90" y="536.70" width="5.80" height="5.80" fill="#f0c010" stroke="#222" stroke-width="0.7"/>
<text x="325.70" y="542.35" font-size="8" text-anchor="start" fill="#231f20" stroke="#231f20" stroke-width="0.05">Oligomycin</text>
<text x="316.90" y="560.45" font-size="8" text-anchor="start" fill="#231f20" stroke="#231f20" stroke-width="0.05">sgMPC1 #2</text>
<polygon points="318.80,569.73 322.10,576.07 315.50,576.07" fill="#fff" stroke="#222" stroke-width="0.7"/>
<text x="325.70" y="575.85" font-size="8" text-anchor="start" fill="#231f20" stroke="#231f20" stroke-width="0.05">Basal</text>
<polygon points="318.80,581.23 322.10,587.57 315.50,587.57" fill="#c0112e" stroke="#222" stroke-width="0.7"/>
<text x="325.70" y="587.35" font-size="8" text-anchor="start" fill="#231f20" stroke="#231f20" stroke-width="0.05">Maximal</text>
<polygon points="318.80,593.33 322.10,599.67 315.50,599.67" fill="#f0c010" stroke="#222" stroke-width="0.7"/>
<text x="325.70" y="599.45" font-size="8" text-anchor="start" fill="#231f20" stroke="#231f20" stroke-width="0.05">Oligomycin</text>
<rect x="430.00" y="436.30" width="13.80" height="72.20" fill="#45536a"/>
<rect x="451.50" y="483.10" width="14.10" height="25.40" fill="#d40a25"/>
<rect x="473.10" y="484.00" width="14.00" height="24.50" fill="#9a8ed4"/>
<rect x="422.50" y="400.50" width="72.00" height="108.00" fill="none" stroke="#231f20" stroke-width="1.25"/>
<line x1="419.50" y1="508.50" x2="422.50" y2="508.50" stroke="#231f20" stroke-width="1" />
<text x="415.70" y="511.06" font-size="8.6" text-anchor="end" fill="#231f20" stroke="#231f20" stroke-width="0.05">0</text>
<line x1="419.50" y1="472.50" x2="422.50" y2="472.50" stroke="#231f20" stroke-width="1" />
<text x="415.70" y="475.03" font-size="8.6" text-anchor="end" fill="#231f20" stroke="#231f20" stroke-width="0.05" textLength="10.5" lengthAdjust="spacingAndGlyphs">0.5</text>
<line x1="419.50" y1="436.50" x2="422.50" y2="436.50" stroke="#231f20" stroke-width="1" />
<text x="415.70" y="438.99" font-size="8.6" text-anchor="end" fill="#231f20" stroke="#231f20" stroke-width="0.05" textLength="10.5" lengthAdjust="spacingAndGlyphs">1.0</text>
<line x1="419.50" y1="400.50" x2="422.50" y2="400.50" stroke="#231f20" stroke-width="1" />
<text x="415.70" y="402.96" font-size="8.6" text-anchor="end" fill="#231f20" stroke="#231f20" stroke-width="0.05" textLength="10.5" lengthAdjust="spacingAndGlyphs">1.5</text>
<circle cx="431.20" cy="435.90" r="1.90" fill="#fff" stroke="#4a4a4a" stroke-width="0.8"/>
<circle cx="436.70" cy="435.90" r="1.90" fill="#fff" stroke="#4a4a4a" stroke-width="0.8"/>
<circle cx="442.10" cy="435.90" r="1.90" fill="#fff" stroke="#4a4a4a" stroke-width="0.8"/>
<circle cx="458.70" cy="460.40" r="1.90" fill="#fff" stroke="#4a4a4a" stroke-width="0.8"/>
<circle cx="458.60" cy="488.70" r="1.70" fill="none" stroke="#6a0a18" stroke-width="0.9"/>
<circle cx="458.60" cy="500.00" r="1.70" fill="none" stroke="#6a0a18" stroke-width="0.9"/>
<circle cx="480.00" cy="459.00" r="1.90" fill="#fff" stroke="#4a4a4a" stroke-width="0.8"/>
<circle cx="480.00" cy="491.70" r="1.70" fill="none" stroke="#2e2a70" stroke-width="0.9"/>
<circle cx="480.00" cy="500.80" r="1.70" fill="none" stroke="#2e2a70" stroke-width="0.9"/>
<circle cx="458.60" cy="452.10" r="1.05" fill="#2b2b2b"/>
<circle cx="480.20" cy="450.20" r="1.05" fill="#2b2b2b"/>
<rect x="430.00" y="563.30" width="13.80" height="71.90" fill="#45536a"/>
<rect x="451.50" y="611.80" width="14.10" height="23.40" fill="#d40a25"/>
<rect x="473.10" y="624.40" width="14.00" height="10.80" fill="#9a8ed4"/>
<rect x="422.50" y="527.50" width="72.00" height="108.00" fill="none" stroke="#231f20" stroke-width="1.25"/>
<line x1="436.60" y1="635.20" x2="436.60" y2="637.70" stroke="#231f20" stroke-width="1" />
<line x1="458.40" y1="635.20" x2="458.40" y2="637.70" stroke="#231f20" stroke-width="1" />
<line x1="480.20" y1="635.20" x2="480.20" y2="637.70" stroke="#231f20" stroke-width="1" />
<line x1="419.50" y1="635.50" x2="422.50" y2="635.50" stroke="#231f20" stroke-width="1" />
<text x="415.70" y="637.76" font-size="8.6" text-anchor="end" fill="#231f20" stroke="#231f20" stroke-width="0.05">0</text>
<line x1="419.50" y1="599.50" x2="422.50" y2="599.50" stroke="#231f20" stroke-width="1" />
<text x="415.70" y="601.86" font-size="8.6" text-anchor="end" fill="#231f20" stroke="#231f20" stroke-width="0.05" textLength="10.5" lengthAdjust="spacingAndGlyphs">0.5</text>
<line x1="419.50" y1="563.50" x2="422.50" y2="563.50" stroke="#231f20" stroke-width="1" />
<text x="415.70" y="565.96" font-size="8.6" text-anchor="end" fill="#231f20" stroke="#231f20" stroke-width="0.05" textLength="10.5" lengthAdjust="spacingAndGlyphs">1.0</text>
<line x1="419.50" y1="527.50" x2="422.50" y2="527.50" stroke="#231f20" stroke-width="1" />
<text x="415.70" y="530.06" font-size="8.6" text-anchor="end" fill="#231f20" stroke="#231f20" stroke-width="0.05" textLength="10.5" lengthAdjust="spacingAndGlyphs">1.5</text>
<circle cx="431.20" cy="563.00" r="1.90" fill="#fff" stroke="#4a4a4a" stroke-width="0.8"/>
<circle cx="436.70" cy="563.00" r="1.90" fill="#fff" stroke="#4a4a4a" stroke-width="0.8"/>
<circle cx="442.10" cy="563.00" r="1.90" fill="#fff" stroke="#4a4a4a" stroke-width="0.8"/>
<circle cx="455.60" cy="609.30" r="1.90" fill="#fff" stroke="#4a4a4a" stroke-width="0.8"/>
<circle cx="461.30" cy="611.20" r="1.90" fill="#fff" stroke="#4a4a4a" stroke-width="0.8"/>
<circle cx="458.30" cy="614.50" r="1.70" fill="none" stroke="#6a0a18" stroke-width="0.9"/>
<circle cx="480.20" cy="619.90" r="1.70" fill="none" stroke="#333" stroke-width="0.9"/>
<circle cx="477.00" cy="626.30" r="1.70" fill="none" stroke="#2e2a70" stroke-width="0.9"/>
<circle cx="483.60" cy="626.30" r="1.70" fill="none" stroke="#2e2a70" stroke-width="0.9"/>
<circle cx="457.00" cy="601.00" r="1.05" fill="#2b2b2b"/>
<circle cx="460.00" cy="601.00" r="1.05" fill="#2b2b2b"/>
<circle cx="478.60" cy="611.80" r="1.05" fill="#2b2b2b"/>
<circle cx="481.80" cy="611.80" r="1.05" fill="#2b2b2b"/>
<rect x="498.10" y="400.40" width="11.70" height="108.10" fill="#c3c1c7"/>
<text transform="translate(503.95,454.45) rotate(90)" x="0" y="2.75" font-size="8" text-anchor="middle" fill="#231f20" stroke="#231f20" stroke-width="0.05">JJN3 cells</text>
<rect x="498.10" y="527.50" width="11.70" height="107.70" fill="#c3c1c7"/>
<text transform="translate(503.95,581.35) rotate(90)" x="0" y="2.75" font-size="8" text-anchor="middle" fill="#231f20" stroke="#231f20" stroke-width="0.05">U266 cells</text>
<text x="458.60" y="383.54" font-size="9.7" text-anchor="middle" fill="#231f20">Bioenergy</text>
<text x="458.40" y="395.14" font-size="9.7" text-anchor="middle" fill="#231f20">capacity</text>
<text transform="translate(394.80,454.30) rotate(-90)" x="0" y="2.96" font-size="8.6" text-anchor="middle" fill="#231f20" stroke="#231f20" stroke-width="0.3" textLength="35.6" lengthAdjust="spacingAndGlyphs">Fold change</text>
<text transform="translate(394.80,581.40) rotate(-90)" x="0" y="2.96" font-size="8.6" text-anchor="middle" fill="#231f20" stroke="#231f20" stroke-width="0.3" textLength="35.6" lengthAdjust="spacingAndGlyphs">Fold change</text>
<text x="437.10" y="648.96" font-size="8.6" text-anchor="middle" fill="#231f20" stroke="#231f20" stroke-width="0.05">Ctrl</text>
<text x="458.30" y="648.96" font-size="8.6" text-anchor="middle" fill="#231f20" stroke="#231f20" stroke-width="0.05">#1</text>
<text x="480.20" y="648.96" font-size="8.6" text-anchor="middle" fill="#231f20" stroke="#231f20" stroke-width="0.05">#2</text>
<line x1="451.30" y1="654.50" x2="486.90" y2="654.50" stroke="#231f20" stroke-width="1" />
<text x="469.00" y="664.16" font-size="8.3" text-anchor="middle" fill="#231f20" stroke="#231f20" stroke-width="0.05">MPC1</text>
<rect x="0.5" y="0.5" width="519" height="706" fill="none" stroke="#535353" stroke-width="1"/>
</svg>
</body></html>
